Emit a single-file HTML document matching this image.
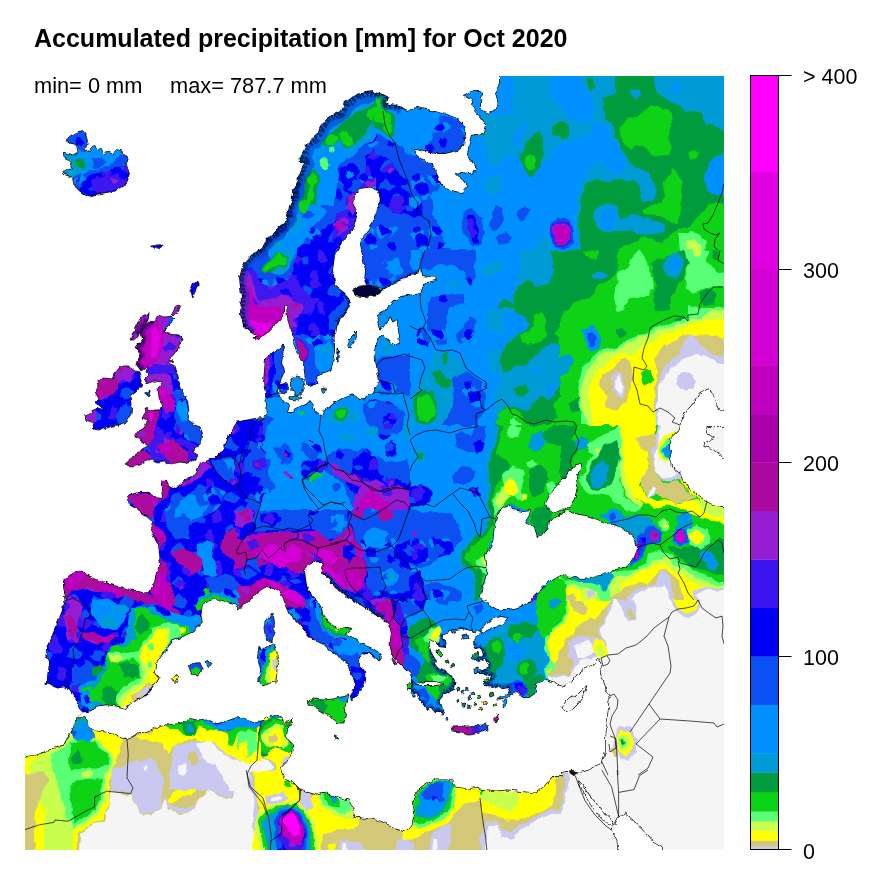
<!DOCTYPE html>
<html><head><meta charset="utf-8"><title>Accumulated precipitation</title>
<style>
html,body{margin:0;padding:0;background:#fff;}
body{width:875px;height:875px;position:relative;overflow:hidden;font-family:"Liberation Sans",sans-serif;color:#000;}
#title{position:absolute;left:34px;top:23px;font-size:25px;font-weight:bold;white-space:nowrap;line-height:30px;}
.mm{position:absolute;z-index:5;top:73px;font-size:21.8px;white-space:nowrap;line-height:26px;}
.tick{position:absolute;left:803px;font-size:21.5px;line-height:26px;white-space:nowrap;}
svg{position:absolute;left:0;top:0;}
</style></head><body>
<div id="title">Accumulated precipitation [mm] for Oct 2020</div>
<div class="mm" style="left:34px">min= 0 mm</div>
<div class="mm" style="left:170px">max= 787.7 mm</div>
<div class="tick" style="top:64px">&gt; 400</div>
<div class="tick" style="top:258px">300</div>
<div class="tick" style="top:451px">200</div>
<div class="tick" style="top:645px">100</div>
<div class="tick" style="top:839px">0</div>
<svg id="map" width="875" height="875" viewBox="0 0 875 875">
<defs><pattern id="m11" width="52" height="52" patternUnits="userSpaceOnUse"><path fill="#0a50f0" d="M30.7,28.9 26.9,34.5 23.3,35.1 14.9,32.4 18.1,26.3 22.9,22.2 26.3,26.3Z"/><path fill="#0a50f0" d="M1.8,30.9 -2.4,36.1 -7.6,36 -15.1,32.3 -10.6,29.6 -9.6,25 -0.5,27.7Z"/><path fill="#0a50f0" d="M53.8,30.9 49.6,36.1 44.4,36 36.9,32.3 41.4,29.6 42.4,25 51.5,27.7Z"/><path fill="#0a50f0" d="M-2,-0.1 -3.8,3.4 -9.1,2.8 -12.2,-1.4 -9.6,-2.4 -5.5,-2.5Z"/><path fill="#0a50f0" d="M-2,51.9 -3.8,55.4 -9.1,54.8 -12.2,50.6 -9.6,49.6 -5.5,49.5Z"/><path fill="#0a50f0" d="M50,-0.1 48.2,3.4 42.9,2.8 39.8,-1.4 42.4,-2.4 46.5,-2.5Z"/><path fill="#0a50f0" d="M50,51.9 48.2,55.4 42.9,54.8 39.8,50.6 42.4,49.6 46.5,49.5Z"/><path fill="#0a50f0" d="M28.7,9.7 24.4,13.5 17.1,14.1 17.3,11.2 21,4.5 24.6,4.7Z"/><path fill="#0a50f0" d="M28.7,61.7 24.4,65.5 17.1,66.1 17.3,63.2 21,56.5 24.6,56.7Z"/><path fill="#0a50f0" d="M36.4,-10.1 33.8,-4.9 27.9,-5.5 28.5,-9.6 30.2,-14.4 34.3,-14.1Z"/><path fill="#0a50f0" d="M36.4,41.9 33.8,47.1 27.9,46.5 28.5,42.4 30.2,37.6 34.3,37.9Z"/><path fill="#3c14f0" d="M13.7,-3.6 14.7,1 10.7,3.2 4.3,1.8 5.5,-3.9 6.6,-7.7 8.5,-10.4 13,-7.6Z"/><path fill="#3c14f0" d="M13.7,48.4 14.7,53 10.7,55.2 4.3,53.8 5.5,48.1 6.6,44.3 8.5,41.6 13,44.4Z"/><path fill="#3c14f0" d="M65.7,-3.6 66.7,1 62.7,3.2 56.3,1.8 57.5,-3.9 58.6,-7.7 60.5,-10.4 65,-7.6Z"/><path fill="#3c14f0" d="M65.7,48.4 66.7,53 62.7,55.2 56.3,53.8 57.5,48.1 58.6,44.3 60.5,41.6 65,44.4Z"/><path fill="#3c14f0" d="M6.4,13.7 6.3,19.5 -2.9,18.5 -2.2,14.7 -0.9,10.8 3.5,10.3Z"/><path fill="#3c14f0" d="M58.4,13.7 58.3,19.5 49.1,18.5 49.8,14.7 51.1,10.8 55.5,10.3Z"/><path fill="#3c14f0" d="M10.3,24.9 5.9,29.3 -1,28.4 -3.7,23.8 1.3,19 6.1,19.3Z"/><path fill="#3c14f0" d="M62.3,24.9 57.9,29.3 51,28.4 48.3,23.8 53.3,19 58.1,19.3Z"/><path fill="#3c14f0" d="M42.9,-1.2 38.1,3.8 33.2,5.9 30.4,3.2 24.7,1.3 27.5,-5.9 31.7,-6.8 39.2,-3.6Z"/><path fill="#3c14f0" d="M42.9,50.8 38.1,55.8 33.2,57.9 30.4,55.2 24.7,53.3 27.5,46.1 31.7,45.2 39.2,48.4Z"/><path fill="#3c14f0" d="M31.7,11.7 28.5,18.1 24.9,16.6 18.9,15.2 20.8,9.1 24.1,8.3 28.5,8.6Z"/><path fill="#3c14f0" d="M31.7,63.7 28.5,70.1 24.9,68.6 18.9,67.2 20.8,61.1 24.1,60.3 28.5,60.6Z"/><path fill="#961ed2" d="M27.2,16.3 26.8,17.9 25.6,18.7 24.7,18.1 22.8,17.3 23.9,15.4 25.6,13.5 29.1,14.4Z"/></pattern><pattern id="m10" width="52" height="52" patternUnits="userSpaceOnUse"><path fill="#0090ff" d="M34.8,22.2 31,25.7 27.4,29 25.3,22.7 26,18.2 31.2,18.5Z"/><path fill="#0090ff" d="M24.1,25.6 23.4,26.8 15.9,28.8 12.2,24.5 12.9,19.2 20.5,19.1Z"/><path fill="#0090ff" d="M8.3,23.9 9.9,31 4,33.6 -3.1,31.7 -6.5,26.5 -1.2,22.3 3,20.9 7.4,20.8Z"/><path fill="#0090ff" d="M60.3,23.9 61.9,31 56,33.6 48.9,31.7 45.5,26.5 50.8,22.3 55,20.9 59.4,20.8Z"/><path fill="#0090ff" d="M14.2,-13.4 11.2,-9.2 6.1,-8.2 5,-12.2 7.7,-16.3 10.4,-16.2Z"/><path fill="#0090ff" d="M14.2,38.6 11.2,42.8 6.1,43.8 5,39.8 7.7,35.7 10.4,35.8Z"/><path fill="#0090ff" d="M66.2,-13.4 63.2,-9.2 58.1,-8.2 57,-12.2 59.7,-16.3 62.4,-16.2Z"/><path fill="#0090ff" d="M66.2,38.6 63.2,42.8 58.1,43.8 57,39.8 59.7,35.7 62.4,35.8Z"/><path fill="#0000f5" d="M27,21.5 27.9,25.2 20,26.3 18.2,24.6 15.8,20.7 16.7,17.1 20.4,17.9 24.1,18.8Z"/><path fill="#0000f5" d="M32.6,39 29,42.5 23.3,41.3 22.7,37.7 25.3,33.6 30.4,36Z"/><path fill="#0000f5" d="M12,32.2 12.1,37.1 3.6,37.5 -0.8,29.9 4.3,25.6 10.1,27.7Z"/><path fill="#0000f5" d="M64,32.2 64.1,37.1 55.6,37.5 51.2,29.9 56.3,25.6 62.1,27.7Z"/><path fill="#0000f5" d="M4.5,23.1 2.1,24.4 -0,26.3 -3.9,23.4 -3.5,20.1 -0.9,18.2 3.3,18.7Z"/><path fill="#0000f5" d="M56.5,23.1 54.1,24.4 52,26.3 48.1,23.4 48.5,20.1 51.1,18.2 55.3,18.7Z"/></pattern><pattern id="m9" width="52" height="52" patternUnits="userSpaceOnUse"><path fill="#0a50f0" d="M29.2,18.3 28.2,21.5 25.3,22.9 21.3,22.7 20.9,19.9 21.4,15.8 23.8,14.8 27.4,15.9Z"/><path fill="#0a50f0" d="M25,4.3 23,7.1 18.8,8.3 15.6,5.3 21.1,1.9 23.7,-0.4Z"/><path fill="#0a50f0" d="M25,56.3 23,59.1 18.8,60.3 15.6,57.3 21.1,53.9 23.7,51.6Z"/><path fill="#0a50f0" d="M1.5,5.6 -1.2,10.3 -4.3,12.5 -10.1,11.6 -10.7,6.7 -13.7,2.5 -7.5,0.9 -2.8,2.2Z"/><path fill="#0a50f0" d="M1.5,57.6 -1.2,62.3 -4.3,64.5 -10.1,63.6 -10.7,58.7 -13.7,54.5 -7.5,52.9 -2.8,54.2Z"/><path fill="#0a50f0" d="M53.5,5.6 50.8,10.3 47.7,12.5 41.9,11.6 41.3,6.7 38.3,2.5 44.5,0.9 49.2,2.2Z"/><path fill="#0a50f0" d="M53.5,57.6 50.8,62.3 47.7,64.5 41.9,63.6 41.3,58.7 38.3,54.5 44.5,52.9 49.2,54.2Z"/><path fill="#009bd7" d="M23.4,34.2 21.6,37.8 18.1,39 16.1,37 15.4,35.7 15.9,32.9 19.6,32.5 22.9,32.9Z"/><path fill="#009bd7" d="M17.4,37.3 13.7,42 10.8,42.1 7.2,39.7 11.4,36.2 13.7,36Z"/></pattern><pattern id="m14" width="52" height="52" patternUnits="userSpaceOnUse"><path fill="#3c14f0" d="M10.5,36 7.7,40.4 3.3,41.8 -0.7,37.6 1.2,31.9 7.4,31.7Z"/><path fill="#3c14f0" d="M62.5,36 59.7,40.4 55.3,41.8 51.3,37.6 53.2,31.9 59.4,31.7Z"/><path fill="#3c14f0" d="M12.7,33 12.4,36.9 7.1,36.4 3.8,34.8 2.8,32.1 7.6,29.6 11.1,31Z"/><path fill="#3c14f0" d="M64.7,33 64.4,36.9 59.1,36.4 55.8,34.8 54.8,32.1 59.6,29.6 63.1,31Z"/><path fill="#3c14f0" d="M17.8,5.8 17,9.8 11.8,12.4 8.1,8.8 9.5,4.4 9.7,-0.2 15.3,2.5Z"/><path fill="#3c14f0" d="M17.8,57.8 17,61.8 11.8,64.4 8.1,60.8 9.5,56.4 9.7,51.8 15.3,54.5Z"/><path fill="#be00be" d="M35.3,-0.6 32.9,4.5 30,6.2 27.2,3.3 26.2,0.5 27.9,-4.9 33.3,-5Z"/><path fill="#be00be" d="M35.3,51.4 32.9,56.5 30,58.2 27.2,55.3 26.2,52.5 27.9,47.1 33.3,47Z"/><path fill="#be00be" d="M6.7,12.3 3.5,17.4 -3.5,17.2 -5.9,12.3 -3.2,9.5 2.9,8.3Z"/><path fill="#be00be" d="M58.7,12.3 55.5,17.4 48.5,17.2 46.1,12.3 48.8,9.5 54.9,8.3Z"/><path fill="#be00be" d="M-0.9,31.8 -1.3,33.9 -4.4,35.3 -8.8,33.4 -8.2,30.7 -5.7,28.8 -1.7,29.7Z"/><path fill="#be00be" d="M51.1,31.8 50.7,33.9 47.6,35.3 43.2,33.4 43.8,30.7 46.3,28.8 50.3,29.7Z"/><path fill="#be00be" d="M18,35.2 14.5,38.1 9.8,37.4 4.8,37 4.5,30.6 9.1,28.3 13.5,28.7Z"/><path fill="#be00be" d="M70,35.2 66.5,38.1 61.8,37.4 56.8,37 56.5,30.6 61.1,28.3 65.5,28.7Z"/><path fill="#961ed2" d="M2.8,35.7 2.8,38 0.1,37.2 -2.8,36.9 -3.8,33.6 -1.1,33 1.1,32.8Z"/><path fill="#961ed2" d="M54.8,35.7 54.8,38 52.1,37.2 49.2,36.9 48.2,33.6 50.9,33 53.1,32.8Z"/><path fill="#961ed2" d="M42.3,18.4 39.3,20.4 37,21.4 33.8,18.9 33,15.9 37.1,14.9 40.2,15.3Z"/><path fill="#961ed2" d="M30.3,5.5 28.3,9.2 26.2,8.7 23.3,6.1 25.2,2.8 28.2,2.7Z"/><path fill="#961ed2" d="M30.3,57.5 28.3,61.2 26.2,60.7 23.3,58.1 25.2,54.8 28.2,54.7Z"/></pattern><pattern id="m13" width="52" height="52" patternUnits="userSpaceOnUse"><path fill="#3c14f0" d="M20.8,36.1 14.9,39.1 10.3,40 5.8,36.9 12.3,29.7 17.4,30.8Z"/><path fill="#3c14f0" d="M27.7,22.4 27.3,26.9 21.2,26.6 19.2,24.9 19.2,21.6 23.8,18.9 25.4,20.1Z"/><path fill="#3c14f0" d="M21.9,19.1 20.8,21.6 18,22.2 13.8,20 16.6,17.4 18.3,14.1 20.9,15.8Z"/><path fill="#3c14f0" d="M-1.8,-10.6 -3.3,-6.4 -5,-5.9 -9.3,-7.8 -9,-9.9 -7.7,-12.6 -7.2,-14.6 -3.8,-12.1Z"/><path fill="#3c14f0" d="M-1.8,41.4 -3.3,45.6 -5,46.1 -9.3,44.2 -9,42.1 -7.7,39.4 -7.2,37.4 -3.8,39.9Z"/><path fill="#3c14f0" d="M50.2,-10.6 48.7,-6.4 47,-5.9 42.7,-7.8 43,-9.9 44.3,-12.6 44.8,-14.6 48.2,-12.1Z"/><path fill="#3c14f0" d="M50.2,41.4 48.7,45.6 47,46.1 42.7,44.2 43,42.1 44.3,39.4 44.8,37.4 48.2,39.9Z"/><path fill="#aa0a9e" d="M20.1,4.3 19.1,6.4 17.4,8.2 14.6,6.3 14.9,3.6 17.1,3.1 20.3,2.9Z"/><path fill="#aa0a9e" d="M20.1,56.3 19.1,58.4 17.4,60.2 14.6,58.3 14.9,55.6 17.1,55.1 20.3,54.9Z"/><path fill="#aa0a9e" d="M40,-8.5 38.4,-5.4 35.9,-4.7 33.1,-4.2 31.2,-7.5 33.7,-9.3 36.1,-10.2 37.1,-9.7Z"/><path fill="#aa0a9e" d="M40,43.5 38.4,46.6 35.9,47.3 33.1,47.8 31.2,44.5 33.7,42.7 36.1,41.8 37.1,42.3Z"/><path fill="#aa0a9e" d="M35.7,14.9 32,17.4 30.1,19.1 28.4,14.3 28.6,13.2 32.4,11.9Z"/></pattern><pattern id="m12" width="52" height="52" patternUnits="userSpaceOnUse"><path fill="#0000f5" d="M31.9,33.7 27.4,38.5 23.4,37.2 20.4,32.9 21.6,30.2 28.4,29Z"/><path fill="#0000f5" d="M-5.2,4.6 -8.5,8 -9.3,9.1 -13.3,9.7 -17.2,5.8 -15.1,0.7 -10.8,0.9 -3,1.1Z"/><path fill="#0000f5" d="M-5.2,56.6 -8.5,60 -9.3,61.1 -13.3,61.7 -17.2,57.8 -15.1,52.7 -10.8,52.9 -3,53.1Z"/><path fill="#0000f5" d="M46.8,4.6 43.5,8 42.7,9.1 38.7,9.7 34.8,5.8 36.9,0.7 41.2,0.9 49,1.1Z"/><path fill="#0000f5" d="M46.8,56.6 43.5,60 42.7,61.1 38.7,61.7 34.8,57.8 36.9,52.7 41.2,52.9 49,53.1Z"/><path fill="#0000f5" d="M22.6,18.4 23.5,22.3 19.7,23.4 16.6,21.8 14.1,19.9 16.5,15.7 17.8,14.2 23.3,15.1Z"/><path fill="#0000f5" d="M25.1,18.9 24.2,20.9 20.5,22.9 16.9,21 16.2,18 13.2,15.3 20.2,13.3 23.6,13.4Z"/><path fill="#961ed2" d="M37.3,11.9 36.3,15.3 32.5,14.4 29,12.9 29.3,9.4 32.3,9.8 35,9.6Z"/><path fill="#961ed2" d="M15.5,24.8 12.3,26.7 9.5,27.9 8.3,26.5 8.1,24.5 8,21.5 11.3,21.7 11.8,23Z"/><path fill="#961ed2" d="M20.3,-3.5 19.7,-0 17,0.1 12.7,0.1 12.5,-3.1 14,-6.4 15.4,-7.8 18.5,-7.2Z"/><path fill="#961ed2" d="M20.3,48.5 19.7,52 17,52.1 12.7,52.1 12.5,48.9 14,45.6 15.4,44.2 18.5,44.8Z"/></pattern><filter id="wob" x="0" y="0" width="875" height="875" filterUnits="userSpaceOnUse"><feTurbulence type="fractalNoise" baseFrequency="0.09" numOctaves="2" seed="7" result="n"/><feDisplacementMap in="SourceGraphic" in2="n" scale="7" xChannelSelector="R" yChannelSelector="G"/></filter><filter id="wob2" x="0" y="0" width="875" height="875" filterUnits="userSpaceOnUse"><feTurbulence type="fractalNoise" baseFrequency="0.17" numOctaves="2" seed="3" result="n"/><feDisplacementMap in="SourceGraphic" in2="n" scale="4.5" xChannelSelector="R" yChannelSelector="G"/></filter><clipPath id="mc"><rect x="25" y="76" width="699" height="774"/></clipPath>
<clipPath id="ic"><path d="M66,140 70,136 75,133.4 82,130.6 85.6,132.6 87.4,141 86,148 84,152 89,151 92,146 95,145.4 97,150.6 101,148 104,154 108,151 112,154 117.4,149.4 122,151 123,155 128.4,156.6 126,163 127.4,168 129.4,173 127.4,181 124,186 119,189 113,191.4 101,193.4 89,196.2 83,194.4 77.4,190 74,184 72.6,177.4 64,174.4 63,171.4 71.4,168.6 70.6,163 63,155.4 63.4,152.2 73,155 78,152 76.6,145.4 70,143Z"/>
<path d="M151.4,246 163,244.2 159.4,249.8 155,248.6Z"/>
<path d="M158,315 164,317 172,316 175,319 169,326 163,332 169,334 178,335 182,338 180,346 174,354 169,360 173,361 168,363 175,366 178,376 180,388 185,396 188,404 189,412 188,420 194,424 200,427 202.4,433 201,440 198,446 193,452 198,455 196,459 188,463 180,462 172,464 164,462 158,463 150,459 144,463 140,465 132,467 124,464 130,459 138,454 142,449 148,446 140,440 134,437 136,433 144,428 148,420 142,418 146,413 144,408 151,410 160,410 162,404 159,398 158,388 163,382 154,381 146,384 145,379 149,375 146,372 148,366 141,371 136,364 140,354 135,347 142,342 140,332 144,326 151,320 154,322Z"/>
<path d="M120,367 129,367 135,371 139,372 141,380 141.6,386 136,392 131,396 132,404 131,414 126,422 118,425 110,427 100,430 92,429 94,423 86,420 85,415 92,412 97,408 104,410 95,403 99,399 95,392 98,386 97,380 103,378 112,379 115,373Z"/>
<path d="M130,340 135,328 140,318 149,313 148,320 143,328 139,334 134,340Z"/>
<path d="M172,314 176,306 181,305 178,312 174,316Z"/>
<path d="M190,290 193,284 198,281 198,286 194,294 191.6,298Z"/>
<path d="M146,393 150,390 149,395 146.4,396Z"/>
<path d="M279,384 286,382 288.6,388 286,394 280,393Z"/>
<path d="M291,379 297,376 303,378 305,385 302,393 297,395 292,391Z"/>
<path d="M289,396 297,395 301,398 295,401 289,399Z"/>
<path d="M321.4,388.6 325,388 326.6,392 323,393.4Z"/>
<path d="M338,349 339.4,350 339,361 337.4,362Z"/>
<path d="M348,340 353,335 357,331 355,339 351,347 348,346Z"/>
<path d="M352,289.6 358.4,286.4 368,284.8 377.6,288 382.4,291.2 376,296 366.4,296.8 356.8,296Z"/>
<path d="M265,622 270,618 273,612 274.4,622 274,634 272,642 268,640 265,634 264,628Z"/>
<path d="M259,646 262,650 269,645 274,643 277,652 277.4,666 276,682 269,683 263,686 258.6,682 260.6,670 257.4,658Z"/>
<path d="M308,702 315,698 323,700 333,699 341,697 349,695 347,702 344,708 346,717 344,723 338,723 331,717 323,713 315,708 310,705Z"/>
<path d="M334,735 337,736 338,739 335,738.4Z"/>
<path d="M172.6,677.6 176.2,675.2 178.6,677.6 175.7,682.4Z"/>
<path d="M188.2,666.8 193,663.2 200.2,662.7 202.1,669.2 197.8,675.2 193,674Z"/>
<path d="M205.5,662 209.8,661.3 211.7,665.6 208.6,666.8Z"/>
<path d="M452,726 459,725.6 467,727 477,726 487,724 488,730 479,733 469,735 461,733 453,732Z"/>
<path d="M503,700 507.4,698 506,705 503.4,708Z"/>
<path d="M494.6,718 497.4,712 498.4,720 495.4,722Z"/>
<path d="M471,655 478,652.4 480,657 475,659.6Z"/>
<path d="M474,669 478,668 479,673 475,674Z"/>
<path d="M483,679 488,678 489,681 484,682Z"/>
<path d="M461,691 464,690 464.6,693 461.6,694Z"/>
<path d="M468,697 471,696 471.4,699 468.6,699.6Z"/>
<path d="M473,703 476,702 476.6,705 473.6,705.6Z"/>
<path d="M462,704 464.6,703 465,706 462.4,706.4Z"/>
<path d="M483,702 486,701 486.4,704 483.4,704.6Z"/>
<path d="M462,635 467,634 468,638 463,639Z"/>
<path d="M391,658 394,660 397,664 395,665 392,662Z"/>
<path d="M407,684 411,683 412,688 408,689Z"/>
<path d="M411,692 415,691 415,696 412,696Z"/>
<path d="M562,707 565,702 569,698 576,696 581,691 587,685.6 585,692 583,698 578,704 573,709 567,711.6 563,710Z"/>
<path d="M451,630 455,629 455.4,632 452,633Z"/>
<path d="M445,660 448,659 449,662 446,663Z"/>
<path d="M451,664 454,663.6 454.6,666 451.6,666.6Z"/>
<path d="M456,688 459,687 460,690 457,691Z"/>
<path d="M465,688 467.4,687.2 468.2,690 465.6,690.6Z"/>
<path d="M471,692 474,691 474.6,694 471.6,694.6Z"/>
<path d="M477,696 480,695.2 480.6,698 477.6,698.6Z"/>
<path d="M489,694 493,692 494,695.6 490,697Z"/>
<path d="M493,704 496,703 496.4,706 493.6,706.6Z"/>
<path d="M479,708 482,707.2 482.4,710 479.6,710.6Z"/>
<path d="M467,706 470,705.2 470.4,708 467.6,708.6Z"/>
<path d="M457,700 459.4,699.4 459.8,702 457.4,702.4Z"/>
<path d="M445,718 447.4,717.2 447.8,720 445.4,720.4Z"/>
<path d="M436,650 440,651 443,655 440,656 436.6,653Z"/></clipPath></defs>
<g clip-path="url(#mc)">
<g filter="url(#wob)">
<rect x="0" y="50" width="760" height="830" fill="#0090ff"/>
<path fill="#009bd7" d="M578,60 740,60 740,250 550,250 580,250 576,215 576,199 581,184 587,172 596,163 608,169 620,175 626,169 624,157 616,143 606,127 592,123 593,113 593,101 583,89Z"/>
<path fill="#009bd7" d="M550,97 561,108 570,118 580,122 589,121 592,123 590,135 570,141 556,147 550,155Z"/>
<path fill="#009b3c" d="M551,127 561,119 570,127 570,134 562,139 552,134Z"/>
<path fill="#009b3c" d="M616,60 652,60 656,93 670,101 686,111 700,113 708,125 740,135 740,250 582,250 580,235 578,219 582,199 586,184 596,181 610,182 624,179 634,181 640,189 643,202 652,203 658,193 654,183 648,171 638,169 630,163 624,153 614,135 610,121 602,109 602,99 616,93Z"/>
<path fill="#009b3c" d="M588,78 595,77 596,87 591,90 587,85Z"/>
<path fill="#009bd7" d="M631,91 639,90 640,96 635,99 631,96Z"/>
<path fill="#0090ff" d="M672,83 678,82 679,91 674,93Z"/>
<path fill="#0090ff" d="M740,151 716,155 708,163 705,175 706,189 714,195 740,195Z"/>
<path fill="#009bd7" d="M596,207 608,203 618,209 620,219 630,215 650,219 666,225 662,233 646,235 630,231 616,231 606,233 598,227 594,217Z"/>
<path fill="#0090ff" d="M600,213 610,209 617,215 615,227 607,231 600,225Z"/>
<path fill="#0ad214" d="M619,129 626,121 638,115 650,106 662,106 672,113 673,123 669,133 671,149 668,155 658,158 650,153 642,145 636,144 630,150 622,141Z"/>
<path fill="#0ad214" d="M665,181 671,171 676,170 682,183 683,195 680,211 678,225 670,221 658,215 644,214 642,210 654,206 663,203Z"/>
<path fill="#0ad214" d="M688,152 694,149 699,152 698,157 693,159 689,156Z"/>
<path fill="#0ad214" d="M616,250 622,245 638,241 644,236 654,239 662,243 670,235 678,229 690,227 700,215 710,205 740,203 740,250Z"/>
<path fill="#5aff78" d="M678,233 690,233 702,235 706,243 704,250 680,250 679,241Z"/>
<path fill="#c8ff50" d="M686,241 694,240 700,245 701,250 688,250Z"/>
<path fill="#0a50f0" d="M551,223 556,219 568,220 573,227 573,241 568,247 558,248 551,243Z"/>
<path fill="#3c14f0" d="M552.4,225 557,221.4 567,222 571,228 571,240 567,245 558,246 552.4,241Z"/>
<path fill="url(#m12)" d="M552.4,225 557,221.4 567,222 571,228 571,240 567,245 558,246 552.4,241Z"/>
<path fill="#961ed2" d="M553.6,226.6 558,223 566.4,223.8 570,229 570,239 566,244 558.4,244.6 553.6,239.4Z"/>
<path fill="url(#m13)" d="M553.6,226.6 558,223 566.4,223.8 570,229 570,239 566,244 558.4,244.6 553.6,239.4Z"/>
<path fill="#be00be" d="M555,228 559,224.6 566,225.4 569,230 569,238 565,243 559,243 555,238Z"/>
<path fill="#0a50f0" d="M339.2,167.1 346.6,158.2 354,155.2 362.9,146.3 368.9,140.4 380,137.4 380,179 368.9,182 365.9,193.9 354,205 333.2,205 336.2,193.9 337.7,179Z"/>
<path fill="url(#m10)" d="M339.2,167.1 346.6,158.2 354,155.2 362.9,146.3 368.9,140.4 380,137.4 380,179 368.9,182 365.9,193.9 354,205 333.2,205 336.2,193.9 337.7,179Z"/>
<path fill="#0000f5" d="M339.2,171.6 346.6,164.2 354,162.7 360,170.1 357,179 362.9,185 354,193.9 345.1,190.9 339.2,182Z"/>
<path fill="url(#m11)" d="M339.2,171.6 346.6,164.2 354,162.7 360,170.1 357,179 362.9,185 354,193.9 345.1,190.9 339.2,182Z"/>
<path fill="#0090ff" d="M346.6,171.6 351,170.1 353.3,174.6 351,178.3 347.3,177.5Z"/>
<path fill="url(#m9)" d="M346.6,171.6 351,170.1 353.3,174.6 351,178.3 347.3,177.5Z"/>
<path fill="#0000f5" d="M365.9,155.2 374.8,149.3 380,152.3 380,170.1 373.3,179 365.9,173.1Z"/>
<path fill="url(#m11)" d="M365.9,155.2 374.8,149.3 380,152.3 380,170.1 373.3,179 365.9,173.1Z"/>
<path fill="#3c14f0" d="M360,187.9 367.4,179 380,176 380,187.9 373.3,185 365.9,190.9 360,199.8 354,205 345.1,205 346.6,196.8Z"/>
<path fill="url(#m12)" d="M360,187.9 367.4,179 380,176 380,187.9 373.3,185 365.9,190.9 360,199.8 354,205 345.1,205 346.6,196.8Z"/>
<path fill="#961ed2" d="M364.4,183.5 371.8,180.5 380,182 380,186.4 373.3,184.2 367.4,187.9Z"/>
<path fill="url(#m13)" d="M364.4,183.5 371.8,180.5 380,182 380,186.4 373.3,184.2 367.4,187.9Z"/>
<path fill="#009bd7" d="M380,97.3 368.9,100.3 360,106.2 351,110.7 342.1,119.6 333.2,128.5 324.3,135.9 318.4,144.8 319.8,152.3 327.3,152.3 339.2,146.3 348.1,149.3 360,146.3 368.9,138.9 371.8,127 380,127Z"/>
<path fill="#009b3c" d="M380,100.3 371.8,103.2 364.4,109.2 354,113.6 346.6,119.6 339.2,125.5 330.2,132.9 324.3,138.9 321.3,144.8 327.3,146.3 333.2,144.8 339.2,141.9 345.1,146.3 354,144.8 360,140.4 365.9,134.4 367.4,125.5 373.3,121.1 380,124Z"/>
<path fill="#0ad214" d="M367.4,112.1 373.3,107.7 380,110.7 380,121.1 373.3,119.6 368.1,118.1Z"/>
<path fill="#0ad214" d="M337.7,134.4 342.1,130 346.6,131.5 351,137.4 354,143.4 348.1,144.8 342.1,143.4 338.4,140.4Z"/>
<path fill="#0ad214" d="M324.3,137.4 330.2,134.4 336.2,137.4 336.9,141.9 333.2,144.8 327.3,144.8Z"/>
<path fill="#5aff78" d="M320.6,159 324.3,156 328,158.2 329.5,164.2 326.5,168.6 322.8,169.4 320.1,165.6Z"/>
<path fill="#5aff78" d="M330.2,148.6 333.2,146.3 334.7,149.3 332.5,153 330.2,152.3Z"/>
<path fill="#009b3c" d="M305,179 312.4,170.1 318.4,173.1 319.8,182 316.9,193.9 315.4,205 300.5,205 302,193.9Z"/>
<path fill="#0ad214" d="M308.7,177.5 312.4,173.1 316.1,174.6 316.9,182 313.9,187.9 315.4,193.9 312.4,201.3 309.4,205 305,205 307.2,193.9 309.4,187.9 307.9,183.5Z"/>
<path fill="#0a50f0" d="M260,205 375,205 375,335 240,335 238,280 260,244Z"/>
<path fill="url(#m10)" d="M260,205 375,205 375,335 240,335 238,280 260,244Z"/>
<path fill="#0090ff" d="M294,205 320,205 328,212 320,220 312,226 304,244 294,254 286,264 276,268 268,260 266,248 276,236 288,224 292,214Z"/>
<path fill="url(#m9)" d="M294,205 320,205 328,212 320,220 312,226 304,244 294,254 286,264 276,268 268,260 266,248 276,236 288,224 292,214Z"/>
<path fill="#009bd7" d="M286,220 296,216 304,220 300,230 290,234Z"/>
<path fill="#009bd7" d="M274,254 288,248 294,256 290,268 280,274 270,272Z"/>
<path fill="#009b3c" d="M260,268 268,262 275,255 281,252 289,259 287,265 278,267 270,272 263,272Z"/>
<path fill="#0ad214" d="M275,256 280,253 284,258 288,260 286,264 280,264 276,266 270,270 264,271 262,268 268,264Z"/>
<path fill="#0ad214" d="M299,202 308,198 309,210 304,214 300,212Z"/>
<path fill="#0000f5" d="M296,250 312,240 328,226 340,220 352,228 340,240 334,256 333,272 336,284 344,292 340,304 328,316 328,335 294,335 296,320 288,308 284,298 292,280 296,264Z"/>
<path fill="url(#m11)" d="M296,250 312,240 328,226 340,220 352,228 340,240 334,256 333,272 336,284 344,292 340,304 328,316 328,335 294,335 296,320 288,308 284,298 292,280 296,264Z"/>
<path fill="#3c14f0" d="M336,216 348,208 358,212 354,226 344,240 336,248 332,240Z"/>
<path fill="url(#m12)" d="M336,216 348,208 358,212 354,226 344,240 336,248 332,240Z"/>
<path fill="#961ed2" d="M348,196 360,190 358,206 352,216 348,208Z"/>
<path fill="url(#m13)" d="M348,196 360,190 358,206 352,216 348,208Z"/>
<path fill="#961ed2" d="M334,224 340,220 346,226 340,236 335,234Z"/>
<path fill="url(#m13)" d="M334,224 340,220 346,226 340,236 335,234Z"/>
<path fill="#be00be" d="M335,224 340,222 341,229 337,231Z"/>
<path fill="#3c14f0" d="M241,268 252,268 260,280 268,288 284,280 296,276 300,288 312,296 320,300 312,312 300,320 294,335 244,335 239,300Z"/>
<path fill="url(#m12)" d="M241,268 252,268 260,280 268,288 284,280 296,276 300,288 312,296 320,300 312,312 300,320 294,335 244,335 239,300Z"/>
<path fill="#961ed2" d="M241,272 249,272 254,284 257,298 268,300 280,296 288,294 294,300 300,304 304,308 300,314 294,320 290,335 245,335 240,312Z"/>
<path fill="url(#m13)" d="M241,272 249,272 254,284 257,298 268,300 280,296 288,294 294,300 300,304 304,308 300,314 294,320 290,335 245,335 240,312Z"/>
<path fill="#be00be" d="M241,280 247,279 251,288 253,300 260,308 272,306 284,308 288,316 284,328 278,335 246,335 241,320Z"/>
<path fill="#e100e1" d="M243,322 250,319 260,323 270,323 274,328 268,335 248,335Z"/>
<path fill="#0a50f0" d="M435,125 441,115 459,118 464,125 466,135 464,145 457,151 445,154 435,154 425,152 423,145 431,139Z"/>
<path fill="url(#m10)" d="M435,125 441,115 459,118 464,125 466,135 464,145 457,151 445,154 435,154 425,152 423,145 431,139Z"/>
<path fill="#0000f5" d="M425,145 431,143 435,149 431,154 425,152Z"/>
<path fill="url(#m11)" d="M425,145 431,143 435,149 431,154 425,152Z"/>
<path fill="#009b3c" d="M375,93 387,95 389,103 387,111 395,115 395,131 389,137 381,131 375,127Z"/>
<path fill="#0ad214" d="M375,97 383,97 385,109 391,119 393,131 387,135 383,125 377,123 375,115Z"/>
<path fill="#009bd7" d="M513,60 550,60 550,159 541,163 533,155 523,163 515,155 507,155 499,163 491,165 487,155 485,141 484,133 485,125 479,117 487,114 503,115 515,113 513,95Z"/>
<path fill="#0090ff" d="M515,135 521,125 527,123 523,135 519,145 515,151 513,143Z"/>
<path fill="#009b3c" d="M520,155 527,143 535,133 541,132 544,155 539,165 533,177 529,177 525,169Z"/>
<path fill="#0ad214" d="M524,157 529,153 535,157 536,163 533,170 529,169 526,163Z"/>
<path fill="#009b3c" d="M471,135 483,132 486,134 483,136 473,136Z"/>
<path fill="#009bd7" d="M485,181 495,176 502,178 500,189 494,196 487,189Z"/>
<path fill="#009bd7" d="M533,250 539,241 550,235 550,250Z"/>
<path fill="#0a50f0" d="M375,133 387,139 395,141 407,153 421,159 433,165 437,175 441,187 431,195 433,215 441,227 445,241 443,250 375,250Z"/>
<path fill="url(#m10)" d="M375,133 387,139 395,141 407,153 421,159 433,165 437,175 441,187 431,195 433,215 441,227 445,241 443,250 375,250Z"/>
<path fill="#0000f5" d="M375,155 387,159 395,171 407,179 411,195 421,203 423,215 415,219 405,215 395,213 387,207 375,205Z"/>
<path fill="url(#m11)" d="M375,155 387,159 395,171 407,179 411,195 421,203 423,215 415,219 405,215 395,213 387,207 375,205Z"/>
<path fill="#3c14f0" d="M393,197 401,195 405,201 401,206 394,204Z"/>
<path fill="url(#m12)" d="M393,197 401,195 405,201 401,206 394,204Z"/>
<path fill="#0090ff" d="M409,197 417,195 421,203 415,209 409,205Z"/>
<path fill="url(#m9)" d="M409,197 417,195 421,203 415,209 409,205Z"/>
<path fill="#0a50f0" d="M463,211 471,209 481,219 485,233 481,245 473,247 465,235 461,223Z"/>
<path fill="#0000f5" d="M467,215 473,215 479,231 479,243 474,244 469,231Z"/>
<path fill="url(#m11)" d="M467,215 473,215 479,231 479,243 474,244 469,231Z"/>
<path fill="#0a50f0" d="M490,223 495,205 501,207 505,219 499,229 492,230Z"/>
<path fill="#0a50f0" d="M517,209 525,205 530,209 527,219 520,222 516,215Z"/>
<path fill="#0a50f0" d="M495,237 507,233 512,237 509,243 499,245Z"/>
<path fill="#0000f5" d="M120,420 236,420 236,596 60,596 60,568 120,568Z"/>
<path fill="url(#m11)" d="M120,420 236,420 236,596 60,596 60,568 120,568Z"/>
<path fill="#aa0a9e" d="M126,497 130,494 148,492 154,496 162,497 161,480 167,480 170,496 160,500 154,508 152,520 148,518 136,508Z"/>
<path fill="url(#m14)" d="M126,497 130,494 148,492 154,496 162,497 161,480 167,480 170,496 160,500 154,508 152,520 148,518 136,508Z"/>
<path fill="#0a50f0" d="M164,510 172,500 184,496 200,486 212,486 226,492 220,504 212,514 200,520 190,526 188,540 176,538 168,528Z"/>
<path fill="url(#m10)" d="M164,510 172,500 184,496 200,486 212,486 226,492 220,504 212,514 200,520 190,526 188,540 176,538 168,528Z"/>
<path fill="#0090ff" d="M180,500 188,494 196,496 200,508 208,504 204,516 190,520 184,514 176,518 175,510Z"/>
<path fill="url(#m9)" d="M180,500 188,494 196,496 200,508 208,504 204,516 190,520 184,514 176,518 175,510Z"/>
<path fill="#0a50f0" d="M212,460 235,456 235,480 224,480 216,472Z"/>
<path fill="url(#m10)" d="M212,460 235,456 235,480 224,480 216,472Z"/>
<path fill="#0090ff" d="M224,460 235,458 235,472 228,470Z"/>
<path fill="url(#m9)" d="M224,460 235,458 235,472 228,470Z"/>
<path fill="#961ed2" d="M200,463 208,460 212,466 204,472 198,480 184,486 180,484 192,477 196,472Z"/>
<path fill="url(#m13)" d="M200,463 208,460 212,466 204,472 198,480 184,486 180,484 192,477 196,472Z"/>
<path fill="#aa0a9e" d="M152,522 164,532 166,542 160,544 159,554 160,564 168,572 172,588 164,595 148,595 154,582 156,572 160,564 158,544 150,530Z"/>
<path fill="url(#m14)" d="M152,522 164,532 166,542 160,544 159,554 160,564 168,572 172,588 164,595 148,595 154,582 156,572 160,564 158,544 150,530Z"/>
<path fill="#be00be" d="M158,568 166,572 170,586 162,595 149,595 154,582Z"/>
<path fill="#aa0a9e" d="M172,552 184,548 196,552 204,562 200,572 192,576 184,566 174,562Z"/>
<path fill="url(#m14)" d="M172,552 184,548 196,552 204,562 200,572 192,576 184,566 174,562Z"/>
<path fill="#0090ff" d="M198,544 208,540 214,544 212,556 218,568 212,578 204,572 202,560 197,554Z"/>
<path fill="url(#m9)" d="M198,544 208,540 214,544 212,556 218,568 212,578 204,572 202,560 197,554Z"/>
<path fill="#aa0a9e" d="M224,534 235,528 235,560 228,558 220,548Z"/>
<path fill="url(#m14)" d="M224,534 235,528 235,560 228,558 220,548Z"/>
<path fill="#aa0a9e" d="M214,580 222,576 220,586 210,592Z"/>
<path fill="url(#m14)" d="M214,580 222,576 220,586 210,592Z"/>
<path fill="#0ad214" d="M208,592 214,590 220,592 220,596 208,596Z"/>
<path fill="#961ed2" d="M62,578 80,570 110,580 148,592.4 148,596 65,596Z"/>
<path fill="url(#m13)" d="M62,578 80,570 110,580 148,592.4 148,596 65,596Z"/>
<path fill="#0000f5" d="M72,578 80,576 86,586 80,595 72,595Z"/>
<path fill="url(#m11)" d="M72,578 80,576 86,586 80,595 72,595Z"/>
<path fill="#0000f5" d="M96,584 106,582 110,590 100,595Z"/>
<path fill="url(#m11)" d="M96,584 106,582 110,590 100,595Z"/>
<path fill="#0a50f0" d="M292,335 337,335 335,359 333,368 329,372 320,374 317,377 318,383 307,386 304,371 297,353Z"/>
<path fill="url(#m10)" d="M292,335 337,335 335,359 333,368 329,372 320,374 317,377 318,383 307,386 304,371 297,353Z"/>
<path fill="#3c14f0" d="M294,337 304,341 309,353 307,363 301,361 296,349Z"/>
<path fill="url(#m12)" d="M294,337 304,341 309,353 307,363 301,361 296,349Z"/>
<path fill="#aa0a9e" d="M295,339 303,343 307,353 305,360 300,357 296,347Z"/>
<path fill="url(#m14)" d="M295,339 303,343 307,353 305,360 300,357 296,347Z"/>
<path fill="#0090ff" d="M315,347 331,341 335,359 331,369 321,373 315,365Z"/>
<path fill="url(#m9)" d="M315,347 331,341 335,359 331,369 321,373 315,365Z"/>
<path fill="#0a50f0" d="M263,355 285,343 285,371 280,397 267,399 263,383Z"/>
<path fill="url(#m10)" d="M263,355 285,343 285,371 280,397 267,399 263,383Z"/>
<path fill="#0000f5" d="M263,357 275,353 275,375 271,395 265,395 263,383Z"/>
<path fill="url(#m11)" d="M263,357 275,353 275,375 271,395 265,395 263,383Z"/>
<path fill="#961ed2" d="M264,359 269,357 270,369 268,383 264,385 263,371Z"/>
<path fill="url(#m13)" d="M264,359 269,357 270,369 268,383 264,385 263,371Z"/>
<path fill="#0a50f0" d="M235,422 267,415 275,419 267,429 261,447 271,459 269,475 275,487 265,495 259,510 235,510Z"/>
<path fill="url(#m10)" d="M235,422 267,415 275,419 267,429 261,447 271,459 269,475 275,487 265,495 259,510 235,510Z"/>
<path fill="#0000f5" d="M235,422 255,418 263,423 261,439 255,447 247,455 243,471 235,475Z"/>
<path fill="url(#m11)" d="M235,422 255,418 263,423 261,439 255,447 247,455 243,471 235,475Z"/>
<path fill="#0a50f0" d="M275,447 287,443 295,455 289,465 279,463Z"/>
<path fill="url(#m10)" d="M275,447 287,443 295,455 289,465 279,463Z"/>
<path fill="#0a50f0" d="M301,443 311,439 319,447 323,459 315,463 305,455Z"/>
<path fill="url(#m10)" d="M301,443 311,439 319,447 323,459 315,463 305,455Z"/>
<path fill="#aa0a9e" d="M282.6,452 286.6,452 287.4,456 283.4,457Z"/>
<path fill="url(#m14)" d="M282.6,452 286.6,452 287.4,456 283.4,457Z"/>
<path fill="#3c14f0" d="M253,461 265,459 267,467 259,471 252,468Z"/>
<path fill="url(#m12)" d="M253,461 265,459 267,467 259,471 252,468Z"/>
<path fill="#aa0a9e" d="M255,463 259,462 260,466 256,467Z"/>
<path fill="url(#m14)" d="M255,463 259,462 260,466 256,467Z"/>
<path fill="#aa0a9e" d="M283,471 287,470 295,479 292,480Z"/>
<path fill="url(#m14)" d="M283,471 287,470 295,479 292,480Z"/>
<path fill="#0ad214" d="M299,413 303,412 304,416 300,417Z"/>
<path fill="#0a50f0" d="M363,403 375,399 391,403 403,411 405,429 395,435 383,439 375,431 367,423 363,415Z"/>
<path fill="url(#m10)" d="M363,403 375,399 391,403 403,411 405,429 395,435 383,439 375,431 367,423 363,415Z"/>
<path fill="#0000f5" d="M382,417 389,412 395,415 396,423 391,429 384,427Z"/>
<path fill="url(#m11)" d="M382,417 389,412 395,415 396,423 391,429 384,427Z"/>
<path fill="#0a50f0" d="M327,455 339,447 355,451 363,447 375,455 387,463 407,459 410,475 410,510 355,510 347,495 335,487 329,475 323,465Z"/>
<path fill="url(#m10)" d="M327,455 339,447 355,451 363,447 375,455 387,463 407,459 410,475 410,510 355,510 347,495 335,487 329,475 323,465Z"/>
<path fill="#0000f5" d="M353,459 363,451 375,457 379,471 387,479 410,483 410,510 363,510 355,495 347,483 351,471Z"/>
<path fill="url(#m11)" d="M353,459 363,451 375,457 379,471 387,479 410,483 410,510 363,510 355,495 347,483 351,471Z"/>
<path fill="#0000f5" d="M384,445 391,441 397,445 395,455 387,457Z"/>
<path fill="url(#m11)" d="M384,445 391,441 397,445 395,455 387,457Z"/>
<path fill="#009bd7" d="M331,411 341,405 355,409 359,419 347,425 331,423 323,421Z"/>
<path fill="#009b3c" d="M335,414 340,408 346,408 347,415 342,420 336,419Z"/>
<path fill="#0ad214" d="M337,414 341,409.4 345,410 345,415 341,418Z"/>
<path fill="#009bd7" d="M337,435 347,432 355,435 353,441 341,442Z"/>
<path fill="#009bd7" d="M365,429 373,426 379,431 375,437 367,435Z"/>
<path fill="#961ed2" d="M329,463 339,465 347,473 355,475 363,483 359,487 347,481 335,473Z"/>
<path fill="url(#m13)" d="M329,463 339,465 347,473 355,475 363,483 359,487 347,481 335,473Z"/>
<path fill="#961ed2" d="M355,495 363,483 375,479 387,487 401,485 410,491 410,510 353,510Z"/>
<path fill="url(#m13)" d="M355,495 363,483 375,479 387,487 401,485 410,491 410,510 353,510Z"/>
<path fill="#be00be" d="M359,505 365,491 373,487 375,495 383,497 389,503 387,510 357,510Z"/>
<path fill="#0090ff" d="M305,477 319,467 331,475 343,483 347,495 335,503 323,503 311,493Z"/>
<path fill="url(#m9)" d="M305,477 319,467 331,475 343,483 347,495 335,503 323,503 311,493Z"/>
<path fill="#0ad214" d="M308,478 319,473 323,475 315,481 308,482Z"/>
<path fill="#0000f5" d="M301,463 319,459 329,463 323,471 311,473 303,479Z"/>
<path fill="url(#m11)" d="M301,463 319,459 329,463 323,471 311,473 303,479Z"/>
<path fill="#0000f5" d="M235,475 247,471 259,479 255,495 243,510 235,510Z"/>
<path fill="url(#m11)" d="M235,475 247,471 259,479 255,495 243,510 235,510Z"/>
<path fill="#009bd7" d="M405,423 410,421 410,443 405,439Z"/>
<path fill="#0a50f0" d="M375,361 387,357 410,353 410,395 395,393 379,395 375,387 379,380Z"/>
<path fill="url(#m10)" d="M375,361 387,357 410,353 410,395 395,393 379,395 375,387 379,380Z"/>
<path fill="#009bd7" d="M382,343 388,340 392,347 389,355 383,353Z"/>
<path fill="#0090ff" d="M410,250 585,250 585,425 410,425Z"/>
<path fill="#0a50f0" d="M422,250 476,250 474,266 476,278 470,286 464,274 456,266 442,264 430,270 420,268Z"/>
<path fill="url(#m10)" d="M422,250 476,250 474,266 476,278 470,286 464,274 456,266 442,264 430,270 420,268Z"/>
<path fill="#0a50f0" d="M430,298 446,294 464,293 464,302 450,308 446,322 447,344 436,346 428,330 428,310Z"/>
<path fill="url(#m10)" d="M430,298 446,294 464,293 464,302 450,308 446,322 447,344 436,346 428,330 428,310Z"/>
<path fill="#0a50f0" d="M456,334 464,324 472,317 477,322 474,334 468,342 460,344Z"/>
<path fill="url(#m10)" d="M456,334 464,324 472,317 477,322 474,334 468,342 460,344Z"/>
<path fill="#0a50f0" d="M416,330 426,328 430,338 428,346 418,344Z"/>
<path fill="url(#m10)" d="M416,330 426,328 430,338 428,346 418,344Z"/>
<path fill="#009bd7" d="M432,354 450,352 466,370 452,378 454,394 450,410 442,425 410,425 410,400 418,386 428,370Z"/>
<path fill="#0a50f0" d="M452,378 466,370 476,378 486,386 484,410 476,425 442,425 450,410 454,394Z"/>
<path fill="url(#m10)" d="M452,378 466,370 476,378 486,386 484,410 476,425 442,425 450,410 454,394Z"/>
<path fill="#009bd7" d="M520,250 585,250 585,425 496,425 494,394 502,378 490,370 488,354 504,350 506,338 498,330 486,330 484,322 490,308 504,310 514,298 518,286Z"/>
<path fill="#0090ff" d="M504,316 514,310 522,316 530,324 520,334 508,338 502,330Z"/>
<path fill="#009bd7" d="M480,268 494,261 503,260 502,270 494,277 482,274Z"/>
<path fill="#009bd7" d="M448,282 454,280 459,287 453,288Z"/>
<path fill="#009b3c" d="M550,250 585,250 585,366 576,374 566,374 572,358 566,346 550,342 538,354 526,364 514,368 506,372 500,362 506,344 520,334 530,324 522,316 514,308 498,307 505,298 512,304 518,286 528,280 538,286 550,284 554,270Z"/>
<path fill="#009b3c" d="M585,362 578,374 566,378 558,390 550,398 538,398 530,408 522,410 514,406 504,408 498,418 498,425 585,425Z"/>
<path fill="#009b3c" d="M514,390 524,383 530,390 524,396 516,395Z"/>
<path fill="#0090ff" d="M532,368 538,367 539,372 533,372.4Z"/>
<path fill="#0090ff" d="M546,386 552,382 555,388 550,395 546,392Z"/>
<path fill="#0ad214" d="M520,336 530,330 536,316 542,313 546,320 547,334 540,342 530,345 522,342Z"/>
<path fill="#0ad214" d="M554,334 562,324 570,306 578,300 585,302 585,330 578,334 568,330 560,340Z"/>
<path fill="#0ad214" d="M573,334 580,331 582,340 576,346 573,342Z"/>
<path fill="#0ad214" d="M554,406 562,394 574,386 580,370 585,364 585,425 550,425 558,416Z"/>
<path fill="#009b3c" d="M570,402 578,396 584,404 580,412 572,410Z"/>
<path fill="#5aff78" d="M580,386 585,384 585,398 581,396Z"/>
<path fill="#5aff78" d="M564,414 568,410 570,420 565,422Z"/>
<path fill="#0ad214" d="M498,414 506,408 516,410 522,416 524,425 498,425Z"/>
<path fill="#5aff78" d="M510,420 516,416 521,425 510,425Z"/>
<path fill="#009b3c" d="M414,394 422,390 432,392 438,406 436,420 426,425 416,422Z"/>
<path fill="#0ad214" d="M418,398 426,394 434,402 436,414 428,422 418,420Z"/>
<path fill="#009b3c" d="M434,374 440,372 446,378 452,380 450,386 442,388 436,382Z"/>
<path fill="#009b3c" d="M442,354 448,352 447,362 442,365Z"/>
<path fill="#0090ff" d="M583,328 585,327 585,340 583,339Z"/>
<path fill="#0ad214" d="M585,250 735,250 735,425 585,425Z"/>
<path fill="#0ad214" d="M560,250 585,250 585,425 560,425Z"/>
<path fill="#009b3c" d="M560,250 618,250 617,274 606,282 596,288 590,298 580,300 570,306 560,318Z"/>
<path fill="#0ad214" d="M583,252 590,250 598,252 598,259 590,260Z"/>
<path fill="#009b3c" d="M652,264 664,258 680,250 688,250 686,266 682,280 672,294 671,310 656,312 653,302 656,286 652,274Z"/>
<path fill="#009b3c" d="M700,292 708,288 716,294 714,304 704,306 700,300Z"/>
<path fill="#009b3c" d="M675,318 684,316 688,322 682,326 676,324Z"/>
<path fill="#009b3c" d="M617,330 622,328 625,333 621,338 617,335Z"/>
<path fill="#009b3c" d="M712,250 718,250 720,262 714,260Z"/>
<path fill="#009bd7" d="M560,356 570,354 573,362 570,372 560,376Z"/>
<path fill="#009b3c" d="M570,404 578,397 586,402 584,410 574,412Z"/>
<path fill="#009bd7" d="M591,274 600,271 608,274 605,278 594,280Z"/>
<path fill="#009bd7" d="M663,262 672,253 678,252 683,260 682,272 676,278 668,276 664,270Z"/>
<path fill="#0090ff" d="M669,262 675,256 680,262 678,270 672,271Z"/>
<path fill="#0090ff" d="M583,330 590,326 597,330 601,340 599,350 592,351 586,345Z"/>
<path fill="#0a50f0" d="M587,334 592,332 596,338 596,346 591,346Z"/>
<path fill="#5aff78" d="M618,274 628,268 634,254 640,250 648,262 650,278 654,288 648,296 636,296 626,300 624,310 616,312 615,300 616,286Z"/>
<path fill="#5aff78" d="M684,250 708,250 708,262 716,270 740,276 740,290 712,286 700,290 692,294 686,288 685,274 688,262Z"/>
<path fill="#c8ff50" d="M692,250 702,250 700,256 694,255Z"/>
<path fill="#5aff78" d="M688,306 698,308 712,308 740,306 740,318 700,322 680,330 660,336 648,344 640,340 648,330 664,326 680,320 688,316Z"/>
<path fill="#5aff78" d="M582,368 600,350 618,346 632,338 644,334 648,344 620,358 600,370 588,390 584,410 590,425 582,425 578,390Z"/>
<path fill="#c8ff50" d="M600,354 616,350 630,342 644,336 660,330 680,324 700,318 712,310 740,310 740,425 588,425 582,410 580,390 588,370Z"/>
<path fill="#ffff00" d="M606,362 620,352 632,356 644,344 664,334 684,328 704,320 740,318 740,425 594,425 590,410 588,394 594,374Z"/>
<path fill="#d2c878" d="M600,386 602,374 612,370 622,359 630,362 634,378 630,390 626,402 618,410 608,408 606,396Z"/>
<path fill="#d2c878" d="M654,358 664,346 684,336 704,334 720,338 740,342 740,425 656,425 654,390 658,374Z"/>
<path fill="#c8c8f0" d="M611,378 616,373 622,376 625,388 623,398 618,397 613,390Z"/>
<path fill="#c8c8f0" d="M662,370 668,362 680,354 688,338 694,334 700,344 712,354 740,358 740,425 656,425 656,390Z"/>
<path fill="#f5f5f5" d="M614,380 618,376 622,382 623,392 620,395 616,390Z"/>
<path fill="#f5f5f5" d="M658,386 666,374 680,362 696,354 708,358 720,364 740,364 740,425 658,425Z"/>
<path fill="#c8c8f0" d="M677,378 684,372 693,374 697,382 692,389 682,389 677,384Z"/>
<path fill="#0ad214" d="M641,374 646,369 652,370 653,380 649,384 643,382Z"/>
<path fill="#0000f5" d="M235,510 410,510 410,685 235,685Z"/>
<path fill="url(#m11)" d="M235,510 410,510 410,685 235,685Z"/>
<path fill="#aa0a9e" d="M235,540 255,534 275,532 305,532 319,530 331,522 347,522 355,538 363,550 367,568 363,586 355,594 343,590 335,582 323,574 320,568 323,565 321,562 314,562.4 307,566 303,576 295,576 285,576 283,586 301,594 307,604 303,610 295,608 285,606 283,598 279,592 273,589 267,587 261,590 255,596 247,602 241,608 235,611Z"/>
<path fill="url(#m14)" d="M235,540 255,534 275,532 305,532 319,530 331,522 347,522 355,538 363,550 367,568 363,586 355,594 343,590 335,582 323,574 320,568 323,565 321,562 314,562.4 307,566 303,576 295,576 285,576 283,586 301,594 307,604 303,610 295,608 285,606 283,598 279,592 273,589 267,587 261,590 255,596 247,602 241,608 235,611Z"/>
<path fill="#d200d2" d="M259,550 269,544 283,548 295,546 303,550 301,560 291,562 285,568 275,568 267,562 261,558Z"/>
<path fill="#d200d2" d="M315,550 323,548 331,552 339,556 337,564 329,566 321,561 317,556Z"/>
<path fill="#d200d2" d="M321,568 329,566 335,572 343,580 347,590 343,590 335,582 325,574Z"/>
<path fill="#be00be" d="M343,570 355,568 361,576 359,588 351,590 345,580Z"/>
<path fill="#d200d2" d="M267,580 275,582 285,590 295,590 303,596 305,604 299,606 291,602 285,596 279,590 271,586Z"/>
<path fill="#be00be" d="M241,590 249,586 255,590 251,596 243,598Z"/>
<path fill="#0000f5" d="M247,566 265,564 285,568 304,574 306,588 299,590 287,586 275,580 261,578 251,576Z"/>
<path fill="url(#m11)" d="M247,566 265,564 285,568 304,574 306,588 299,590 287,586 275,580 261,578 251,576Z"/>
<path fill="#0a50f0" d="M255,510 309,510 309,529 275,530 255,532Z"/>
<path fill="url(#m10)" d="M255,510 309,510 309,529 275,530 255,532Z"/>
<path fill="#0000f5" d="M261,514 275,512 281,520 271,526 263,522Z"/>
<path fill="url(#m11)" d="M261,514 275,512 281,520 271,526 263,522Z"/>
<path fill="#3c14f0" d="M301,536 311,534 315,540 307,544Z"/>
<path fill="url(#m12)" d="M301,536 311,534 315,540 307,544Z"/>
<path fill="#3c14f0" d="M247,540 257,538 259,546 251,550Z"/>
<path fill="url(#m12)" d="M247,540 257,538 259,546 251,550Z"/>
<path fill="#0000f5" d="M343,546 353,544 357,556 349,562 343,556Z"/>
<path fill="url(#m11)" d="M343,546 353,544 357,556 349,562 343,556Z"/>
<path fill="#0a50f0" d="M289,578 299,578 303,584 295,585Z"/>
<path fill="url(#m10)" d="M289,578 299,578 303,584 295,585Z"/>
<path fill="#0a50f0" d="M245,560 255,558 261,568 257,582 249,586 244,576Z"/>
<path fill="url(#m10)" d="M245,560 255,558 261,568 257,582 249,586 244,576Z"/>
<path fill="#0a50f0" d="M309,516 323,510 347,510 349,526 339,536 329,540 319,532 311,528Z"/>
<path fill="url(#m10)" d="M309,516 323,510 347,510 349,526 339,536 329,540 319,532 311,528Z"/>
<path fill="#0090ff" d="M331,518 343,514 347,524 339,532 331,528Z"/>
<path fill="url(#m9)" d="M331,518 343,514 347,524 339,532 331,528Z"/>
<path fill="#961ed2" d="M235,510 255,510 253,522 243,528 235,526Z"/>
<path fill="url(#m13)" d="M235,510 255,510 253,522 243,528 235,526Z"/>
<path fill="#aa0a9e" d="M243,516 249,515 251,521 245,523Z"/>
<path fill="url(#m14)" d="M243,516 249,515 251,521 245,523Z"/>
<path fill="#0a50f0" d="M351,510 410,510 410,590 395,594 383,590 375,598 367,586 367,568 363,550 355,538 349,522Z"/>
<path fill="url(#m10)" d="M351,510 410,510 410,590 395,594 383,590 375,598 367,586 367,568 363,550 355,538 349,522Z"/>
<path fill="#0090ff" d="M363,534 375,528 387,530 391,540 383,548 373,550 365,544Z"/>
<path fill="url(#m9)" d="M363,534 375,528 387,530 391,540 383,548 373,550 365,544Z"/>
<path fill="#0090ff" d="M383,570 393,568 399,576 395,586 387,588 382,580Z"/>
<path fill="url(#m9)" d="M383,570 393,568 399,576 395,586 387,588 382,580Z"/>
<path fill="#009bd7" d="M387,574 393,573 395,580 389,583Z"/>
<path fill="#0000f5" d="M395,546 410,540 410,570 401,568 395,558Z"/>
<path fill="url(#m11)" d="M395,546 410,540 410,570 401,568 395,558Z"/>
<path fill="#aa0a9e" d="M353,510 363,510 365,516 359,520 354,516Z"/>
<path fill="url(#m14)" d="M353,510 363,510 365,516 359,520 354,516Z"/>
<path fill="#aa0a9e" d="M379,510 395,510 393,518 385,521 380,516Z"/>
<path fill="url(#m14)" d="M379,510 395,510 393,518 385,521 380,516Z"/>
<path fill="#961ed2" d="M371,600 383,596 395,604 397,618 395,626 389,624 383,619 375,614Z"/>
<path fill="url(#m13)" d="M371,600 383,596 395,604 397,618 395,626 389,624 383,619 375,614Z"/>
<path fill="#aa0a9e" d="M375,604 383,600 391,606 393,618 389,624 383,619 377,614Z"/>
<path fill="url(#m14)" d="M375,604 383,600 391,606 393,618 389,624 383,619 377,614Z"/>
<path fill="#aa0a9e" d="M391,626 399,628 403,640 402,654 405,664 401,666 393,658 389,646Z"/>
<path fill="url(#m14)" d="M391,626 399,628 403,640 402,654 405,664 401,666 393,658 389,646Z"/>
<path fill="#0090ff" d="M401,604 410,600 410,618 403,616Z"/>
<path fill="url(#m9)" d="M401,604 410,600 410,618 403,616Z"/>
<path fill="#0a50f0" d="M311,594 319,598 323,610 323,622 329,634 343,642 355,646 367,650 379,654 382,658 375,658 363,654 355,654 347,650 339,654 331,648 323,642 315,638 307,630 311,618 309,606Z"/>
<path fill="url(#m10)" d="M311,594 319,598 323,610 323,622 329,634 343,642 355,646 367,650 379,654 382,658 375,658 363,654 355,654 347,650 339,654 331,648 323,642 315,638 307,630 311,618 309,606Z"/>
<path fill="#0090ff" d="M315,600 321,604 324,616 323,626 319,622 315,610Z"/>
<path fill="url(#m9)" d="M315,600 321,604 324,616 323,626 319,622 315,610Z"/>
<path fill="#0090ff" d="M347,636 359,640 371,646 379,652 373,654 363,650 353,646 345,642Z"/>
<path fill="url(#m9)" d="M347,636 359,640 371,646 379,652 373,654 363,650 353,646 345,642Z"/>
<path fill="#009bd7" d="M320,610 325,612 329,619 339,625 353,626 355,634 363,640 355,642 343,638 331,636 323,632 320,622Z"/>
<path fill="#009b3c" d="M323,614 330,621 338,627 352,627 352,633 344,635 334,633.6 325,630 322,622Z"/>
<path fill="#0ad214" d="M324,617 329,622 337,628 347,627 352,628 351,632 344,634 335,632 327,628 324,623Z"/>
<path fill="#c8ff50" d="M335,628.4 340,628 341,630.6 336,631.2Z"/>
<path fill="#0090ff" d="M288,610 295,608 301,616 297,620 291,618Z"/>
<path fill="url(#m9)" d="M288,610 295,608 301,616 297,620 291,618Z"/>
<path fill="#0a50f0" d="M312,640 389,640 389,700 312,700Z"/>
<path fill="url(#m10)" d="M312,640 389,640 389,700 312,700Z"/>
<path fill="#0000f5" d="M349,666 363,668 367,680 363,686 355,699 350,696 355,684Z"/>
<path fill="url(#m11)" d="M349,666 363,668 367,680 363,686 355,699 350,696 355,684Z"/>
<path fill="#0090ff" d="M359,640 373,648 379,652 382,658 379,663 375,658 369,653 359,648Z"/>
<path fill="url(#m9)" d="M359,640 373,648 379,652 382,658 379,663 375,658 369,653 359,648Z"/>
<path fill="#0090ff" d="M331,640 359,640 359,652 347,656 335,650Z"/>
<path fill="url(#m9)" d="M331,640 359,640 359,652 347,656 335,650Z"/>
<path fill="#0a50f0" d="M389,640 410,640 410,692 407,672 393,658Z"/>
<path fill="url(#m10)" d="M389,640 410,640 410,692 407,672 393,658Z"/>
<path fill="#aa0a9e" d="M390,640 399,640 401,652 405,660 401,666 393,658Z"/>
<path fill="url(#m14)" d="M390,640 399,640 401,652 405,660 401,666 393,658Z"/>
<path fill="#0ad214" d="M407.4,680 410,680 410,689 407.4,688Z"/>
<path fill="#ffff00" d="M235,716 295,716 295,780 355,796 355,815 235,815Z"/>
<path fill="#0090ff" d="M235,717 245,719 253,722 263,720 263,724 253,728 243,726 235,724Z"/>
<path fill="url(#m9)" d="M235,717 245,719 253,722 263,720 263,724 253,728 243,726 235,724Z"/>
<path fill="#009b3c" d="M235,724 243,726 253,728 263,722 275,715 283,718 285,724 293,720 291,728 286,736 290,740 294,744 293,752 283,752 275,748 267,756 257,758 255,748 251,734 243,730 235,734Z"/>
<path fill="#0ad214" d="M235,728 243,729 251,734 255,748 257,760 235,760Z"/>
<path fill="#0ad214" d="M263,726 275,718 282,720 285,726 291,726 287,736 293,744 292,752 283,752 277,746 267,754 259,752 260,736Z"/>
<path fill="#c8ff50" d="M235,736 243,734 249,740 253,752 253,760 235,760Z"/>
<path fill="#c8ff50" d="M265,730 275,724 283,724 285,736 289,744 283,750 275,746 267,748 262,740Z"/>
<path fill="#ffff00" d="M237,744 243,740 249,748 250,758 237,758Z"/>
<path fill="#ffff00" d="M269,734 277,728 283,730 284,740 280,748 273,744 267,740Z"/>
<path fill="#d2c878" d="M269,736 274,733 277,737 274,743 270,741Z"/>
<path fill="#d2c878" d="M235,756 259,756 275,762 277,772 265,776 259,784 259,796 279,794 281,806 263,810 259,815 235,815Z"/>
<path fill="#c8c8f0" d="M235,758 257,757 271,762 275,770 263,774 257,782 255,792 261,800 275,798 277,804 261,808 257,815 235,815Z"/>
<path fill="#f5f5f5" d="M235,760 255,758 267,760 273,768 261,772 255,780 251,792 257,800 255,815 235,815Z"/>
<path fill="#c8ff50" d="M259,784 265,778 271,780 273,792 265,798 260,794Z"/>
<path fill="#c8c8f0" d="M301,790 307,792 315,794 313,806 309,812 303,806Z"/>
<path fill="#f5f5f5" d="M308,804 312,805 312,811 308.6,810Z"/>
<path fill="#c8c8f0" d="M282,758 289,757 290,764 283,765Z"/>
<path fill="#0ad214" d="M282,781 288,780 291,786 285,789Z"/>
<path fill="#c8ff50" d="M315,794 323,792 339,796 349,800 353,810 347,815 321,815 315,804Z"/>
<path fill="#0ad214" d="M321,795 329,792 341,798 345,806 335,808 325,804Z"/>
<path fill="#009b3c" d="M325,797 331,794 341,800 341,806 331,806Z"/>
<path fill="#009bd7" d="M331,798 337,797 339,803 334,805Z"/>
<path fill="#c8ff50" d="M255,815 261,808 275,804 295,803 307,808 311,815Z"/>
<path fill="#0ad214" d="M261,815 267,809 279,806 295,805 305,810 308,815Z"/>
<path fill="#009bd7" d="M269,815 275,810 295,807 303,812 305,815Z"/>
<path fill="#0a50f0" d="M275,815 280,811 295,809 302,815Z"/>
<path fill="url(#m10)" d="M275,815 280,811 295,809 302,815Z"/>
<path fill="#3c14f0" d="M280,815 285,811 295,810 300,815Z"/>
<path fill="url(#m12)" d="M280,815 285,811 295,810 300,815Z"/>
<path fill="#be00be" d="M285,815 289,812 295,811.6 298,815Z"/>
<path fill="#0000f5" d="M39.4,567.2 159.4,567.2 207.4,596 207.4,639.2 149.8,713.6 73,718.4 39.4,689.6Z"/>
<path fill="url(#m11)" d="M39.4,567.2 159.4,567.2 207.4,596 207.4,639.2 149.8,713.6 73,718.4 39.4,689.6Z"/>
<path fill="#aa0a9e" d="M62.2,576.8 77.8,570.1 97,579.2 121,586.4 145,592.4 159.4,600.8 173.8,608 183.4,612.8 178.6,615.2 164.2,608 149.8,603.2 137.8,600.8 125.8,598.4 109,593.6 97,591.2 82.6,588.8 73,591.2 65.8,598.4 63.4,588.8Z"/>
<path fill="url(#m14)" d="M62.2,576.8 77.8,570.1 97,579.2 121,586.4 145,592.4 159.4,600.8 173.8,608 183.4,612.8 178.6,615.2 164.2,608 149.8,603.2 137.8,600.8 125.8,598.4 109,593.6 97,591.2 82.6,588.8 73,591.2 65.8,598.4 63.4,588.8Z"/>
<path fill="#be00be" d="M63.4,578 73,573.2 80.2,576.8 77.8,586.4 70.6,591.2 64.6,586.4Z"/>
<path fill="#be00be" d="M97,584 109,586.4 121,591.2 116.2,596 101.8,591.2Z"/>
<path fill="#961ed2" d="M64.6,600.8 73,596 82.6,600.8 80.2,615.2 75.4,629.6 77.8,641.6 70.6,644 65.8,632 63.4,617.6Z"/>
<path fill="url(#m13)" d="M64.6,600.8 73,596 82.6,600.8 80.2,615.2 75.4,629.6 77.8,641.6 70.6,644 65.8,632 63.4,617.6Z"/>
<path fill="#aa0a9e" d="M65.8,617.6 71.8,615.2 76.6,629.6 73,636.8 68.2,629.6Z"/>
<path fill="url(#m14)" d="M65.8,617.6 71.8,615.2 76.6,629.6 73,636.8 68.2,629.6Z"/>
<path fill="#aa0a9e" d="M80.2,632 92.2,633.2 104.2,636.8 116.2,632 118.6,636.8 106.6,642.8 97,644 85,639.2Z"/>
<path fill="url(#m14)" d="M80.2,632 92.2,633.2 104.2,636.8 116.2,632 118.6,636.8 106.6,642.8 97,644 85,639.2Z"/>
<path fill="#0090ff" d="M92.2,600.8 106.6,598.4 121,603.2 128.2,608 125.8,620 116.2,629.6 106.6,627.2 97,622.4 89.8,612.8Z"/>
<path fill="url(#m9)" d="M92.2,600.8 106.6,598.4 121,603.2 128.2,608 125.8,620 116.2,629.6 106.6,627.2 97,622.4 89.8,612.8Z"/>
<path fill="#009bd7" d="M101.8,617.6 111.4,615.2 116.2,622.4 109,627.2 101.8,624.8Z"/>
<path fill="#0a50f0" d="M73,665.6 85,660.8 97,665.6 104.2,672.8 94.6,680 82.6,684.8 73,680Z"/>
<path fill="url(#m10)" d="M73,665.6 85,660.8 97,665.6 104.2,672.8 94.6,680 82.6,684.8 73,680Z"/>
<path fill="#009bd7" d="M130.6,608 145,605.6 159.4,612.8 178.6,617.6 193,620 201.4,617.6 202.6,622.4 193,632 183.4,636.8 173.8,640.4 169,646.4 161.8,656 157,663.2 155.8,672.8 160.6,678.8 154.6,684.8 147.4,694.4 140.2,699.2 130.6,704 125.8,708.8 116.2,706.4 106.6,705.2 97,706.4 89.8,711.2 82.6,704 77.8,694.4 80.2,684.8 92.2,680 101.8,672.8 106.6,660.8 109,648.8 121,644 130.6,639.2 135.4,627.2 130.6,617.6Z"/>
<path fill="#0ad214" d="M135.4,610.4 149.8,608 159.4,615.2 154.6,624.8 145,632 142.6,641.6 133,644 121,648.8 109,653.6 106.6,665.6 104.2,675.2 92.2,684.8 82.6,689.6 80.2,696.8 85,706.4 97,706.4 116.2,706.4 125.8,708.8 140.2,699.2 154.6,684.8 160.6,678.8 155.8,672.8 157,663.2 169,646.4 183.4,636.8 193,632 197.8,627.2 188.2,624.8 173.8,622.4 164.2,620Z"/>
<path fill="#5aff78" d="M149.8,622.4 159.4,620 173.8,624.8 183.4,629.6 188.2,632 173.8,640.4 161.8,656 155.8,672.8 159.4,678.8 147.4,694.4 130.6,704 121,704 118.6,694.4 125.8,684.8 133,675.2 121,665.6 109,663.2 106.6,656 121,653.6 135.4,648.8 142.6,639.2Z"/>
<path fill="#ffff00" d="M154.6,629.6 164.2,624.8 178.6,629.6 183.4,634.4 173.8,640.4 169,646.4 161.8,656 157,663.2 155.8,672.8 160.6,678.8 154.6,684.8 147.4,694.4 140.2,699.2 130.6,704 125.8,708.8 118.6,704 121,696.8 130.6,689.6 140.2,680 145,668 142.6,656 145,644Z"/>
<path fill="#c8c8f0" d="M130.6,696.8 137.8,690.8 147.4,686 152.2,687.2 147.4,694.4 140.2,699.2 133,701.6Z"/>
<path fill="#f5f5f5" d="M123.4,705.2 128.2,704 129.4,707.6 125.8,709.3Z"/>
<path fill="#009b3c" d="M121,660.8 130.6,658.4 137.8,665.6 137.8,675.2 128.2,677.6 121,670.4Z"/>
<path fill="#0090ff" d="M79,694.4 87.4,690.8 94.6,696.8 92.2,704 85,708.8 80.2,704Z"/>
<path fill="url(#m9)" d="M79,694.4 87.4,690.8 94.6,696.8 92.2,704 85,708.8 80.2,704Z"/>
<path fill="#0000f5" d="M83.8,698 88.6,696.8 89.8,701.6 85,702.8Z"/>
<path fill="url(#m11)" d="M83.8,698 88.6,696.8 89.8,701.6 85,702.8Z"/>
<path fill="#0ad214" d="M76.6,717.2 86.2,717.2 89.8,725.6 94.6,730.4 104.2,731.6 113.8,732.8 118.6,737.6 116.2,752 113.8,770 10,770 10,759.2 49,749.6 63.4,744.8 73,725.6Z"/>
<path fill="#009bd7" d="M76.6,719.6 85,718.4 92.2,728 93.4,737.6 87.4,742.4 77.8,740 71.8,732.8Z"/>
<path fill="#0090ff" d="M79,725.6 86.2,723.2 91,730.4 88.6,738.8 81.4,738.8 76.6,732.8Z"/>
<path fill="url(#m9)" d="M79,725.6 86.2,723.2 91,730.4 88.6,738.8 81.4,738.8 76.6,732.8Z"/>
<path fill="#009b3c" d="M68.2,735.2 80.2,742.4 97,744.8 106.6,752 109,761.6 97,766.4 82.6,761.6 73,756.8 65.8,747.2Z"/>
<path fill="#c8ff50" d="M92.2,730.4 104.2,730.9 115,732.8 121,737.6 118.6,752 109,755.6 101.8,747.2 94.6,740Z"/>
<path fill="#ffff00" d="M94.6,731.6 104.2,731.6 113.8,732.8 119.8,737.6 117.4,749.6 111.4,752 104.2,744.8 97,740Z"/>
<path fill="#c8ff50" d="M39.4,753.2 53.8,749.6 61,754.4 56.2,766.4 49,770 44.2,770 51.4,759.2Z"/>
<path fill="#ffff00" d="M10,759.2 37,754.4 46.6,752 51.4,759.2 44.2,770 10,770Z"/>
<path fill="#d2c878" d="M119.8,737.6 128.2,738.8 137.8,732.8 145,731.6 154.6,728 159.4,732.8 169,737.6 178.6,742.4 173.8,752 159.4,756.8 145,754.4 130.6,759.2 128.2,770 115,770 117.4,752Z"/>
<path fill="#ffff00" d="M145,731.6 154.6,728 166.6,724.4 178.6,723.2 190.6,718.4 197.8,719.6 207.4,718.4 217,723.2 226.6,720.8 235,717.2 235,737.6 217,740 197.8,737.6 178.6,740 164.2,736.4 154.6,732.8Z"/>
<path fill="#0ad214" d="M166.6,724.4 178.6,723.2 190.6,718.4 197.8,719.6 207.4,718.4 217,723.2 214.6,732.8 202.6,732.8 193,737.6 181,735.2 171.4,730.4Z"/>
<path fill="#009bd7" d="M185.8,725.6 193,723.2 195.4,732.8 188.2,737.6 183.4,732.8Z"/>
<path fill="#0090ff" d="M226.6,720.8 235,717.2 235,728 229,728Z"/>
<path fill="url(#m9)" d="M226.6,720.8 235,717.2 235,728 229,728Z"/>
<path fill="#c8ff50" d="M157,728 169,725.6 173.8,732.8 164.2,735.2Z"/>
<path fill="#d2c878" d="M159.4,756.8 173.8,742.4 197.8,738.8 217,741.2 235,738.8 235,752 178.6,766.4 169,764Z"/>
<path fill="#c8c8f0" d="M130.6,759.2 145,754.4 159.4,756.8 173.8,752 183.4,744.8 197.8,741.2 217,743.6 235,749.6 235,770 128.2,770Z"/>
<path fill="#f5f5f5" d="M193,746 207.4,742.4 226.6,750.8 235,755.6 235,770 207.4,770 197.8,759.2Z"/>
<path fill="#f5f5f5" d="M137.8,761.6 147.4,758 154.6,764 149.8,770 135.4,770Z"/>
<path fill="#0090ff" d="M410,425 585,425 585,600 410,600Z"/>
<path fill="#0ad214" d="M498,425 585,425 585,521 570,513 558,517 550,521 548,529 543,535 537,537 534,527 524,523 530,511 510,505 498,513 494,533 489,549 486,565 487,573 482,589 481,600 474,600 476,581 470,569 462,563 460,553 470,545 476,537 486,529 490,513 488,501 490,485 488,465 494,445Z"/>
<path fill="#009b3c" d="M488,461 498,455 506,459 510,467 502,477 496,489 490,491Z"/>
<path fill="#009b3c" d="M528,473 538,465 546,469 548,481 542,493 534,497 528,489Z"/>
<path fill="#009b3c" d="M542,433 554,425 570,425 576,437 570,447 558,445 548,443Z"/>
<path fill="#009b3c" d="M534,509 546,505 554,513 550,521 548,529 543,535 537,537 534,527 530,519Z"/>
<path fill="#009b3c" d="M472,581 478,565 484,569 482,585 480,599 475,600Z"/>
<path fill="#009b3c" d="M574,501 585,497 585,521 578,515 570,513Z"/>
<path fill="#009bd7" d="M528,443 534,433 542,431 546,439 542,451 534,453 529,449Z"/>
<path fill="#0090ff" d="M536,439 541,437 542,445 538,448Z"/>
<path fill="#0090ff" d="M576,441 582,437 584,445 579,448Z"/>
<path fill="#0090ff" d="M510,508 522,507 524,512 518,513 512,511Z"/>
<path fill="#009bd7" d="M524,519 528,517 530,523 526,525Z"/>
<path fill="#5aff78" d="M506,429 514,425 520,429 518,437 510,437Z"/>
<path fill="#5aff78" d="M506,471 514,465 522,471 524,483 520,493 528,495 526,501 518,499 510,493 504,485 502,477Z"/>
<path fill="#5aff78" d="M526,461 532,458 536,463 532,468 527,466Z"/>
<path fill="#5aff78" d="M546,487 552,482 556,487 550,495Z"/>
<path fill="#5aff78" d="M570,465 576,455 584,455 585,477 578,485 576,477 580,469Z"/>
<path fill="#5aff78" d="M578,489 585,485 585,497 580,499Z"/>
<path fill="#5aff78" d="M496,493 504,485 510,493 504,505 498,513 494,517 494,505Z"/>
<path fill="#c8ff50" d="M498,493 504,487 510,495 504,504 499,509 496,505Z"/>
<path fill="#ffff00" d="M504,483 510,478 516,483 518,491 512,494 506,491Z"/>
<path fill="#ffff00" d="M520,495 525,494 527,499 522,501Z"/>
<path fill="#5aff78" d="M476,561 484,557 487,565 487,573 482,571 478,567Z"/>
<path fill="#c8ff50" d="M479,559 484,558 486,565 481,565Z"/>
<path fill="#0a50f0" d="M454,435 462,431 470,437 474,425 486,425 486,441 480,451 470,453 462,447 456,445Z"/>
<path fill="#0000f5" d="M474,443 480,440 485,445 482,453 476,454Z"/>
<path fill="url(#m11)" d="M474,443 480,440 485,445 482,453 476,454Z"/>
<path fill="#0a50f0" d="M452,475 460,469 470,465 476,473 470,481 462,485 454,483Z"/>
<path fill="url(#m10)" d="M452,475 460,469 470,465 476,473 470,481 462,485 454,483Z"/>
<path fill="#0000f5" d="M410,487 422,483 432,491 430,503 422,505 410,509Z"/>
<path fill="url(#m11)" d="M410,487 422,483 432,491 430,503 422,505 410,509Z"/>
<path fill="#3c14f0" d="M412,493 420,491 422,499 414,502Z"/>
<path fill="url(#m12)" d="M412,493 420,491 422,499 414,502Z"/>
<path fill="#0a50f0" d="M410,509 422,513 436,511 450,515 460,525 462,537 454,549 442,557 430,565 422,569 410,565Z"/>
<path fill="url(#m10)" d="M410,509 422,513 436,511 450,515 460,525 462,537 454,549 442,557 430,565 422,569 410,565Z"/>
<path fill="#0000f5" d="M434,545 442,541 452,543 454,551 446,555 436,553Z"/>
<path fill="url(#m11)" d="M434,545 442,541 452,543 454,551 446,555 436,553Z"/>
<path fill="#0000f5" d="M410,545 420,543 428,549 426,561 416,565 410,563Z"/>
<path fill="url(#m11)" d="M410,545 420,543 428,549 426,561 416,565 410,563Z"/>
<path fill="#3c14f0" d="M412,551 418,549 420,557 414,560Z"/>
<path fill="url(#m12)" d="M412,551 418,549 420,557 414,560Z"/>
<path fill="#be00be" d="M411.6,531 415,530.6 415.6,535 412.4,535.4Z"/>
<path fill="#0a50f0" d="M422,585 436,581 450,585 462,593 460,600 422,600Z"/>
<path fill="url(#m10)" d="M422,585 436,581 450,585 462,593 460,600 422,600Z"/>
<path fill="#0000f5" d="M410,573 418,571 424,581 426,600 410,600Z"/>
<path fill="url(#m11)" d="M410,573 418,571 424,581 426,600 410,600Z"/>
<path fill="#009bd7" d="M414,449 422,447 426,457 422,465 416,461Z"/>
<path fill="#009b3c" d="M418,453 423,452 424,460 420,462Z"/>
<path fill="#0000f5" d="M470,489 478,487 480,495 474,497Z"/>
<path fill="url(#m11)" d="M470,489 478,487 480,495 474,497Z"/>
<path fill="#0ad214" d="M540,589 546,583 554,579 564,573 568,577 574,574 580,579 585,578 585,600 530,600 534,595Z"/>
<path fill="#0090ff" d="M570,577 576,575 582,580 585,579 585,585 576,583Z"/>
<path fill="#0a50f0" d="M530,600 534,595 540,589 544,585 546,591 540,600Z"/>
<path fill="#3c14f0" d="M532,599 537,593 540,595 537,600Z"/>
<path fill="url(#m12)" d="M532,599 537,593 540,595 537,600Z"/>
<path fill="#c8ff50" d="M550,591 562,585 578,587 585,589 585,600 550,600Z"/>
<path fill="#ffff00" d="M562,591 570,588 580,591 585,593 585,600 564,600Z"/>
<path fill="#d2c878" d="M566,595 576,593 584,596 585,600 566,600Z"/>
<path fill="#0ad214" d="M590,425 735,425 735,600 560,600 560,425Z"/>
<path fill="#ffff00" d="M680,473 735,473 735,513 716,509 706,504 698,498 690,492 684,484Z"/>
<path fill="#f5f5f5" d="M668,425 735,425 735,473 680,473 672,470 669,461 669,445 672,437Z"/>
<path fill="#009b3c" d="M560,425 576,425 572,437 580,449 572,457 570,473 560,481Z"/>
<path fill="#009bd7" d="M575,441 582,436 588,438 587,447 580,450 576,447Z"/>
<path fill="#5aff78" d="M586,445 600,437 610,431 620,425 626,435 626,457 620,481 626,499 640,509 636,513 620,505 610,497 596,495 584,491 580,481 586,465 592,455Z"/>
<path fill="#c8ff50" d="M594,449 599,447 600,452 596,455Z"/>
<path fill="#009b3c" d="M606,445 616,441 620,451 618,465 612,481 606,489 596,491 588,485 586,475 592,463 600,453Z"/>
<path fill="#009bd7" d="M590,475 596,465 604,461 609,465 607,479 600,489 593,486Z"/>
<path fill="#c8ff50" d="M618,425 624,425 626,445 624,465 628,483 634,495 644,505 640,509 628,499 622,485 620,465 622,445Z"/>
<path fill="#ffff00" d="M620,425 656,425 654,437 648,449 648,465 644,477 640,485 646,495 654,501 648,505 640,501 632,493 626,481 623,465 624,445Z"/>
<path fill="#ffff00" d="M648,501 664,499 680,503 696,499 708,502 740,511 740,529 716,521 700,517 688,513 680,507 664,505 654,509Z"/>
<path fill="#c8ff50" d="M696,499 708,502 740,511 740,521 712,515 700,509Z"/>
<path fill="#d2c878" d="M635,439 640,436 656,435 658,449 656,465 658,477 664,485 680,481 688,491 696,497 688,501 676,503 668,499 656,495 648,497 642,487 642,477 648,465 648,451 640,447Z"/>
<path fill="#c8c8f0" d="M651,451 656,445 656,435 658,425 680,425 678,431 672,437 669,445 672,451 670,459 672,467 680,473 682,479 672,482 664,483 658,477 654,465Z"/>
<path fill="#f5f5f5" d="M654,455 658,447 660,425 680,425 678,431 672,437 669,445 672,451 670,459 672,467 678,472 672,477 662,479 657,473 654,465Z"/>
<path fill="#c8c8f0" d="M646.4,494 651,486 657,487 654,496 649,499.4Z"/>
<path fill="#f5f5f5" d="M648,493 652,487 656,488 653,495 649,498Z"/>
<path fill="#f5f5f5" d="M707,425 740,425 740,461 718,453 712,449 704,447 703,443 715,438 706,433Z"/>
<path fill="#ffff00" d="M658,445 664,437 674,431 680,433 678,445 674,455 668,463 662,461 659,453Z"/>
<path fill="#5aff78" d="M660,447 666,440 675,435 678,441 675,453 669,461 663,459Z"/>
<path fill="#009bd7" d="M663,449 669,443 677,441 676,451 671,459 665,458Z"/>
<path fill="#0090ff" d="M666,449 672,444 677,443 675.6,451 671,457 667,456Z"/>
<path fill="#009bd7" d="M600,515 610,509 618,511 626,517 640,515 650,517 656,525 664,533 660,543 648,545 644,555 636,565 628,567 630,561 637,549 636,543 632,537 626,531 618,527 610,525Z"/>
<path fill="#0090ff" d="M603,516 611,511 617,514 620,521 612,524 606,521Z"/>
<path fill="#0a50f0" d="M607,515 613,513 616,518 610,521Z"/>
<path fill="#0a50f0" d="M637,537 644,533 648,525 656,527 663,534 660,542 650,544 644,553 636,563 629,565 633,557 637,549Z"/>
<path fill="#3c14f0" d="M638,541 644,537 646,543 640,553 635,561 632,563 636,553Z"/>
<path fill="url(#m12)" d="M638,541 644,537 646,543 640,553 635,561 632,563 636,553Z"/>
<path fill="#961ed2" d="M650,533 655,530 660,534 659,540 653,542 649.6,538Z"/>
<path fill="url(#m13)" d="M650,533 655,530 660,534 659,540 653,542 649.6,538Z"/>
<path fill="#aa0a9e" d="M634.4,553 638,548 639,555 636,561Z"/>
<path fill="url(#m14)" d="M634.4,553 638,548 639,555 636,561Z"/>
<path fill="#0ad214" d="M656,519 662,513 670,511 676,519 675,529 669,536 662,531 658,525Z"/>
<path fill="#5aff78" d="M658,521 664,517 668,523 666,531 661,529Z"/>
<path fill="#c8ff50" d="M662,521 666,520 667,527 663,528Z"/>
<path fill="#009bd7" d="M676,517 684,513 693,515 692,525 688,529 690,537 688,545 680,547 674,543 672,533 678,525Z"/>
<path fill="#0090ff" d="M683,516 690,514 692,519 687,521Z"/>
<path fill="#5aff78" d="M686,529 698,525 708,529 710,543 700,549 690,545Z"/>
<path fill="#0a50f0" d="M673,534 677,530 685,530 689,537 686,544 679,545 674,541Z"/>
<path fill="#961ed2" d="M674.4,535 678,531 684,531 687,537 684,543 679,544 675,540Z"/>
<path fill="url(#m13)" d="M674.4,535 678,531 684,531 687,537 684,543 679,544 675,540Z"/>
<path fill="#d200d2" d="M677,534 682,532 685,537 682,542 678,542Z"/>
<path fill="#ffff00" d="M689,533 696,529 703,533 704,541 698,545 691,541Z"/>
<path fill="#009b3c" d="M692,545 700,549 712,543 720,537 740,537 740,577 712,573 700,569 688,563 680,557 672,553 668,545 680,549 688,547Z"/>
<path fill="#009bd7" d="M700,555 704,549 714,553 720,565 716,571 708,569 702,563Z"/>
<path fill="#0090ff" d="M703,555 708,552 714,557 717,565 710,567 705,562Z"/>
<path fill="#5aff78" d="M560,577 580,583 600,583 612,573 628,569 640,569 648,555 660,549 668,553 680,561 700,573 720,581 740,581 740,600 560,600Z"/>
<path fill="#c8ff50" d="M616,577 630,573 644,569 652,561 664,557 672,561 680,569 700,579 720,585 740,585 740,600 612,600 608,589Z"/>
<path fill="#ffff00" d="M620,583 636,575 648,569 654,565 664,563 672,567 680,575 696,583 712,589 740,589 740,600 620,600Z"/>
<path fill="#d2c878" d="M612,597 626,587 640,583 648,585 654,577 658,569 668,569 676,577 680,589 684,600 610,600Z"/>
<path fill="#c8c8f0" d="M626,600 636,589 648,587 656,583 660,571 666,570 670,577 672,589 674,600Z"/>
<path fill="#f5f5f5" d="M632,600 640,591 654,587 664,585 668,591 669,600Z"/>
<path fill="#c8c8f0" d="M692,591 704,587 740,589 740,600 696,600Z"/>
<path fill="#f5f5f5" d="M696,594 708,590 740,592 740,600 700,600Z"/>
<path fill="#009bd7" d="M570,577 576,576 584,579 590,578 600,575 610,572 614,577 610,585 604,591 598,585 590,583 580,583Z"/>
<path fill="#c8ff50" d="M560,585 572,585 584,587 596,591 600,600 560,600Z"/>
<path fill="#ffff00" d="M560,589 570,588 580,591 584,600 560,600Z"/>
<path fill="#d2c878" d="M564,595 572,594 576,600 564,600Z"/>
<path fill="#c8c8f0" d="M586,591 594,589 596,595 590,599Z"/>
<path fill="#0090ff" d="M385,600 560,600 560,775 385,775Z"/>
<path fill="#009bd7" d="M489,636 509,624 537,620 545,640 545,668 537,684 529,698 513,694 497,688 489,682 493,666 485,660 481,649Z"/>
<path fill="#0090ff" d="M505,646 517,642 525,650 521,660 509,660Z"/>
<path fill="#3c14f0" d="M389,600 401,600 405,616 407,630 409,650 410,668 405,670 403,650 401,636 397,624 393,612Z"/>
<path fill="url(#m12)" d="M389,600 401,600 405,616 407,630 409,650 410,668 405,670 403,650 401,636 397,624 393,612Z"/>
<path fill="#aa0a9e" d="M385,600 391,600 393,612 397,624 401,636 403,650 405,664 401,668 395,662 391,656 389,646 385,647Z"/>
<path fill="url(#m14)" d="M385,600 391,600 393,612 397,624 401,636 403,650 405,664 401,668 395,662 391,656 389,646 385,647Z"/>
<path fill="#be00be" d="M385,604 389,606 391,618 389,622 385,620Z"/>
<path fill="#be00be" d="M391,628 397,626 401,640 399,648 394,644Z"/>
<path fill="#0a50f0" d="M397,600 425,600 423,610 409,616 403,612Z"/>
<path fill="url(#m10)" d="M397,600 425,600 423,610 409,616 403,612Z"/>
<path fill="#009b3c" d="M409,626 421,618 433,620 439,626 435,634 430,643 431.4,652 436,660 435,664 441,668 449,673 454,678 455,683 449,692 444,695 440,700 442,706 445,712 437,696 431,688 425,683 415,680 417,670 425,662 421,652 411,646 407,636Z"/>
<path fill="#0ad214" d="M421,636 430,643 431.4,652 436,660 433,666 425,660 419,650 415,640Z"/>
<path fill="#0ad214" d="M425,676 435,672 449,673 454,678 455,683 449,688 439,684 429,684Z"/>
<path fill="#0ad214" d="M425,684 437,686 443,694 440,700 442,706 445,712 441,708 435,698 427,690Z"/>
<path fill="#5aff78" d="M431,676 441,674 447,678 443,682 433,681Z"/>
<path fill="#5aff78" d="M423,638 431,630 439,626 442,632 439,640 433,645 426,643Z"/>
<path fill="#c8ff50" d="M428,637 435,630 440,630 439,638 434,643Z"/>
<path fill="#ffff00" d="M433,632 438,627 441,630 438,637 434,637Z"/>
<path fill="#0a50f0" d="M405,654 415,656 421,666 417,676 409,674 405,666Z"/>
<path fill="url(#m10)" d="M405,654 415,656 421,666 417,676 409,674 405,666Z"/>
<path fill="#0a50f0" d="M417,690 425,688 429,696 427,706 421,700Z"/>
<path fill="url(#m10)" d="M417,690 425,688 429,696 427,706 421,700Z"/>
<path fill="#0a50f0" d="M435,600 451,600 447,606 439,605Z"/>
<path fill="url(#m10)" d="M435,600 451,600 447,606 439,605Z"/>
<path fill="#0a50f0" d="M473,606 481,604 483,612 477,614Z"/>
<path fill="#009b3c" d="M489,640 497,636 503,642 505,652 503,664 497,670 493,680 489,682 491,677 485,674 489,666 485,660 483,654 481,649 487,646Z"/>
<path fill="#0ad214" d="M491,642 497,639 502,646 499,654 493,652Z"/>
<path fill="#009b3c" d="M509,626 521,622 533,624 539,630 533,636 523,640 513,642 507,634Z"/>
<path fill="#0ad214" d="M513,636 519,633 523,638 518,643 513,641Z"/>
<path fill="#0a50f0" d="M509,684 517,680 525,682 529,690 525,698 517,694 513,694Z"/>
<path fill="#0000f5" d="M515,684 522,682 526,688 523,695 517,692Z"/>
<path fill="url(#m11)" d="M515,684 522,682 526,688 523,695 517,692Z"/>
<path fill="#009b3c" d="M517,664 525,658 533,660 537,668 533,678 525,680 519,674Z"/>
<path fill="#0ad214" d="M520,666 525,661 530,664 529,672 523,674Z"/>
<path fill="#009b3c" d="M537,600 560,600 560,630 549,632 543,624 539,612Z"/>
<path fill="#0ad214" d="M541,604 551,600 560,600 560,626 551,628 545,620Z"/>
<path fill="#0090ff" d="M555,600 560,600 560,606 555,605Z"/>
<path fill="#009b3c" d="M525,680 533,678 541,672 545,678 537,684 535,694 529,698 527,690Z"/>
<path fill="#5aff78" d="M545,636 551,632 560,630 560,680 553,682 547,678 545,668 549,660 545,650Z"/>
<path fill="#ffff00" d="M548,638 553,634 560,632 560,666 554,668 551,676 548,670 552,660 549,650Z"/>
<path fill="#d2c878" d="M555,654 560,652 560,666 555,664Z"/>
<path fill="#f5f5f5" d="M551,677 557,676 560,678 560,682 553,682Z"/>
<path fill="#aa0a9e" d="M528,600 535,600 534,603 530,603.6Z"/>
<path fill="url(#m14)" d="M528,600 535,600 534,603 530,603.6Z"/>
<path fill="#f5f5f5" d="M550,600 740,600 740,775 550,775Z"/>
<path fill="#c8c8f0" d="M550,600 614,600 610,612 602,624 600,636 606,646 608,654 600,658 592,656 580,660 574,670 568,676 558,678 550,676Z"/>
<path fill="#c8c8f0" d="M616,600 634,600 637,610 634,620 627,621 624,612Z"/>
<path fill="#d2c878" d="M550,600 612,600 606,614 600,624 598,636 602,640 590,638 578,636 568,644 568,654 574,662 570,674 558,676 550,674Z"/>
<path fill="#d2c878" d="M627,610 632,609 633,618 628,619Z"/>
<path fill="#c8c8f0" d="M568,644 578,637 590,638 597,650 593,658 580,660 574,664Z"/>
<path fill="#f5f5f5" d="M574,646 582,641 590,642 593,652 586,658 578,658Z"/>
<path fill="#ffff00" d="M550,600 610,600 604,610 596,620 588,618 582,622 574,630 566,640 560,650 558,660 550,664Z"/>
<path fill="#d2c878" d="M568,600 584,600 588,608 584,614 574,612Z"/>
<path fill="#5aff78" d="M550,600 567,600 568,612 564,624 556,630 550,632Z"/>
<path fill="#0ad214" d="M550,600 565,600 566,612 562,622 554,628 550,630Z"/>
<path fill="#009b3c" d="M550,600 564,600 564,608 558,612 550,612Z"/>
<path fill="#009bd7" d="M550,600 561,600 561,606 554,608 550,608Z"/>
<path fill="#5aff78" d="M550,660 554,662 556,668 550,672Z"/>
<path fill="#ffff00" d="M591,646 595,640 602,643 608,650 607,656 600,658 594,654Z"/>
<path fill="#c8ff50" d="M595,646 600,645 605,650 603,656 598,655Z"/>
<path fill="#c8c8f0" d="M670,600 699,600 699,610 690,617 680,614 673,608Z"/>
<path fill="#ffff00" d="M673,600 697,600 696,608 688,613 680,610 675,605Z"/>
<path fill="#c8c8f0" d="M614,734 620,728 630,727 637,738 636,752 628,760 620,758 614,748Z"/>
<path fill="#d2c878" d="M612,748 616,747 617,756 613,757Z"/>
<path fill="#ffff00" d="M615,736 620,731 629,732 634,740 632,752 626,756 619,752Z"/>
<path fill="#c8ff50" d="M617,738 622,734 629,736 631,744 628,751 621,750Z"/>
<path fill="#5aff78" d="M618.4,740 623,737 627,740 627,746 622,748Z"/>
<path fill="#009b3c" d="M620,740 624,739 625.6,743 622,745Z"/>
<path fill="#202020" d="M568,771 572,769 578,772 576,775 569,775Z"/>
<path fill="#d2c878" d="M556,773 564,771 566,775 556,775Z"/>
<path fill="#d2c878" d="M109,730 235,730 235,865 75.4,865 77.8,833.2 89.8,826 104.2,818.8 109,802 109,782.8 116.2,763.6Z"/>
<path fill="#ffff00" d="M10,762.4 34.6,756.4 49,750.4 63.4,744.4 69.4,734.8 71.8,730 125.8,730 121,744.4 116.2,763.6 109,782.8 109,802 104.2,818.8 89.8,826 77.8,833.2 75.4,865 10,865Z"/>
<path fill="#c8ff50" d="M32.2,761.2 49,751.6 63.4,746.8 69.4,737.2 97,739.6 113.8,754 115,763.6 106.6,778 106.6,799.6 97,816.4 82.6,826 73,830.8 70.6,865 41.8,865 39.4,826 34.6,802 27.4,778Z"/>
<path fill="#d2c878" d="M10,778 34.6,773.2 44.2,772 49,778 41.8,792.4 37,806.8 34.6,826 33.4,865 10,865Z"/>
<path fill="#ffff00" d="M35.8,809.2 41.8,802 45.4,809.2 43,865 34.6,865Z"/>
<path fill="#5aff78" d="M49,754 63.4,749.2 69.4,739.6 94.6,739.6 109,751.6 112.6,763.6 104.2,775.6 103,799.6 94.6,814 80.2,823.6 73,829.6 68.2,818.8 61,797.2 56.2,778 51.4,766Z"/>
<path fill="#0ad214" d="M69.4,742 94.6,740.8 107.8,754 109,763.6 97,768.4 82.6,768.4 70.6,770.8Z"/>
<path fill="#0ad214" d="M69.4,785.2 85,779.2 101.8,778 100.6,799.6 93.4,811.6 80.2,818.8 74.2,823.6 70.6,809.2Z"/>
<path fill="#009b3c" d="M71.8,756.4 77.8,750.4 83.8,758.8 80.2,762.4 74.2,763.6Z"/>
<path fill="#c8ff50" d="M81.4,773.2 89.8,770.8 93.4,774.4 87.4,778 82.6,777.5Z"/>
<path fill="#0090ff" d="M71.8,730 92.2,730 93.4,737.2 87.4,742 77.8,740.8 73,736Z"/>
<path fill="url(#m9)" d="M71.8,730 92.2,730 93.4,737.2 87.4,742 77.8,740.8 73,736Z"/>
<path fill="#ffff00" d="M135.4,734.8 149.8,732.4 169,734.8 178.6,730 235,730 235,744.4 226.6,739.6 217,737.2 207.4,740.8 193,739.6 178.6,742 169,751.6 164.2,744.4 149.8,739.6 140.2,739.6Z"/>
<path fill="#0ad214" d="M181,730 197.8,730 195.4,739.6 185.8,738.4Z"/>
<path fill="#009bd7" d="M187,730 193,730 191.8,736 188.2,736Z"/>
<path fill="#0ad214" d="M229,730 235,730 235,744.4 229,739.6Z"/>
<path fill="#c8c8f0" d="M111.4,770.8 125.8,766 137.8,758.8 149.8,760 159.4,766 163,790 159.4,806.8 152.2,814 142.6,814 135.4,804.4 130.6,794.8 111.4,788.8 110.2,778Z"/>
<path fill="#c8c8f0" d="M171.4,766 178.6,746.8 190.6,743.2 200.2,746.8 207.4,761.2 209.8,773.2 224.2,778 233.8,790 231.4,797.2 217,794.8 209.8,787.6 212.2,778 202.6,770.8 190.6,776.8 178.6,775.6Z"/>
<path fill="#c8c8f0" d="M164.2,797.2 173.8,806.8 190.6,806.8 195.4,802 190.6,811.6 178.6,812.8 169,808Z"/>
<path fill="#f5f5f5" d="M197.8,744.4 207.4,740.8 217,746.8 226.6,755.2 235,760 235,865 77.8,865 80.2,833.2 92.2,826 106.6,818.8 109,802 111.4,790 130.6,796 135.4,805.6 142.6,815.2 152.2,815.2 159.4,808 164.2,798.4 169,809.2 178.6,814 190.6,812.8 195.9,803.2 201.4,795.3 209.8,788.8 217,796 231.4,798.4 234.3,790 224.7,777.5 210.3,772.7 207.9,760.7 203.1,749.2Z"/>
<path fill="#ffff00" d="M167.8,800.8 173.8,792.4 188.2,782.8 197.8,781.6 197.8,787.6 190.6,794.8 178.6,799.6 171.4,803.2Z"/>
<path fill="#f5f5f5" d="M177.4,766 183.4,762.4 190.6,768.4 189.4,775.6 182.2,773.2Z"/>
<path fill="#f5f5f5" d="M143.1,767.2 147.4,766 148.6,770.3 144.5,770.8Z"/>
<path fill="#d2c878" d="M235,770 480,770 480,865 235,865Z"/>
<path fill="#c8c8f0" d="M235,770 251.8,770 253.2,786.8 258.8,800.8 256,826 261.6,842.8 270,865 235,865Z"/>
<path fill="#f5f5f5" d="M235,770 247.6,770 249,786.8 254.6,800.8 251.8,826 257.4,842.8 265.8,865 235,865Z"/>
<path fill="#ffff00" d="M254.6,770 281.2,770 284,777 291,781.2 299.4,788.2 300.8,800.8 319,795.2 324.6,806.4 341.4,817.6 361,817.6 358.2,826 341.4,830.2 321.8,834.4 319,865 251.8,865 254.6,826 260.2,806.4 254.6,789.6Z"/>
<path fill="#c8c8f0" d="M265.8,795.2 282.6,792.4 288.2,798 277,805 265.8,803.6Z"/>
<path fill="#f5f5f5" d="M270,798 279.8,795.8 279.8,800.2 271.4,801.4Z"/>
<path fill="#c8c8f0" d="M300.8,789.6 309.2,793.8 313.4,806.4 306.4,812 300.8,803.6Z"/>
<path fill="#0ad214" d="M282.6,781.2 289.6,779.8 291,786.8 284.8,787.4Z"/>
<path fill="#c8ff50" d="M256,817.6 265.8,806.4 282.6,803.6 296.6,802.2 307.8,812 316.2,826 319,865 263,865 256,834.4Z"/>
<path fill="#0ad214" d="M258.8,820.4 268.6,809.2 285.4,805 298,805 306.4,814.8 313.4,828.8 314.8,865 268.6,865 260.2,834.4Z"/>
<path fill="#009bd7" d="M263,821.8 272.8,812 288.2,806.4 298,807.8 305,816.2 310.6,831.6 310.6,865 272.8,865 264.4,834.4Z"/>
<path fill="#0a50f0" d="M272.8,819 281.2,810.6 293.8,807.8 302.2,816.2 307.8,831.6 306.4,865 279.8,865 274.2,834.4Z"/>
<path fill="url(#m10)" d="M272.8,819 281.2,810.6 293.8,807.8 302.2,816.2 307.8,831.6 306.4,865 279.8,865 274.2,834.4Z"/>
<path fill="#3c14f0" d="M277,820.4 284,812 293.8,809.8 300.8,817.6 305,833 302.2,865 286.8,865 278.4,835.8Z"/>
<path fill="url(#m12)" d="M277,820.4 284,812 293.8,809.8 300.8,817.6 305,833 302.2,865 286.8,865 278.4,835.8Z"/>
<path fill="#be00be" d="M279.8,820.4 286.8,812 293.8,810.6 299.4,819 303.6,834.4 300.8,845.6 291,842.8 282.6,833Z"/>
<path fill="#ff00ff" d="M282.6,820.4 288.2,813.4 293.8,813.4 298,821.8 299.4,833 295.2,835.8 288.2,831.6Z"/>
<path fill="#c8ff50" d="M319,795.2 335.8,796.6 349.8,799.4 354,809.2 352.6,817.6 341.4,817.6 330.2,812 320.4,806.4Z"/>
<path fill="#5aff78" d="M320.4,793.8 335.8,796.6 349.8,799.4 352.6,809.2 344.2,814.8 333,809.2 321.8,805Z"/>
<path fill="#0ad214" d="M321.8,793.8 333,795.2 341.4,800.8 338.6,806.4 327.4,805Z"/>
<path fill="#009bd7" d="M330.2,796.6 335.8,795.8 338,801.4 331.6,802.2Z"/>
<path fill="#ffff00" d="M403,831.6 411.4,826 414.2,814.8 417,791 436.6,778.4 453.4,781.2 456.2,786.8 467.4,788.2 480,786.8 480,800.8 464.6,803.6 456.2,812 447.8,823.2 431,830.2 414.2,837.2 403,840Z"/>
<path fill="#5aff78" d="M411.4,826 414.2,814.8 412.8,800.8 417,791 425.4,784 436.6,778.4 447.8,778.4 453.4,781.2 456.2,792.4 453.4,806.4 447.8,817.6 431,824.6 417,828.8Z"/>
<path fill="#0ad214" d="M412.8,823.2 414.2,803.6 417,791 428.2,782.6 447.8,778.4 453.4,782.6 452,798 447.8,812 431,820.4 417,824.6Z"/>
<path fill="#009bd7" d="M417,817.6 418.4,795.2 428.2,784 447.8,779 452,784 449.2,800.8 442.2,812 428.2,817.6Z"/>
<path fill="#0090ff" d="M419.8,812 421.2,795.2 431,784 446.4,779.8 450,786.8 446.4,800.8 436.6,810.6 428.2,814.8Z"/>
<path fill="url(#m9)" d="M419.8,812 421.2,795.2 431,784 446.4,779.8 450,786.8 446.4,800.8 436.6,810.6 428.2,814.8Z"/>
<path fill="#0a50f0" d="M422.6,792.4 431,784 443.6,781.2 442.2,795.2 433.8,800.8 425.4,799.4Z"/>
<path fill="url(#m10)" d="M422.6,792.4 431,784 443.6,781.2 442.2,795.2 433.8,800.8 425.4,799.4Z"/>
<path fill="#0ad214" d="M414.2,796.6 418.4,795.2 419.8,803.6 415.6,805Z"/>
<path fill="#c8c8f0" d="M335.8,865 338.6,841.4 347,838.6 358.2,841.4 375,865Z"/>
<path fill="#c8c8f0" d="M391.8,865 397.4,840 408.6,838.6 414.2,845.6 414.2,865Z"/>
<path fill="#c8c8f0" d="M428.2,865 431,834.4 442.2,826 450.6,823.2 450.6,840 447.8,865Z"/>
<path fill="#f5f5f5" d="M340,865 342.8,842.8 347,842.2 348.4,865Z"/>
<path fill="#f5f5f5" d="M431,865 433.2,840 437.2,840 438,865Z"/>
<path fill="#ffff00" d="M327.4,865 328.8,844.2 334.4,843.4 335.8,865Z"/>
<path fill="#f5f5f5" d="M480,770 740,770 740,865 480,865Z"/>
<path fill="#c8c8f0" d="M480,789.6 536,792.4 552.8,775.6 564,771.4 569.6,775.6 566.8,792.4 561.2,812 544.4,817.6 524.8,826 510.8,838.6 502.4,835.8 496.8,826 488.4,826 485.6,837.2 487,865 480,865Z"/>
<path fill="#d2c878" d="M480,789.6 536,792.4 552.8,775.6 564,772.8 565.4,786.8 558.4,809.2 541.6,813.4 522,823.2 509.4,833 502.4,830.2 496.8,821.8 485.6,821.8 482.8,831.6 480,834.4Z"/>
<path fill="#ffff00" d="M480,789.6 536,792.4 548.6,779.8 557,777 555.6,795.2 550,809.2 536,812 519.2,820.4 508,820.4 494,814.8 480,812Z"/>
<path fill="#c8ff50" d="M480,791 519.2,792.4 519.2,806.4 510.8,812 496.8,806.4 480,800.8Z"/>
<path fill="#0ad214" d="M480,786.8 482.8,789.6 482.2,795.2 480,795.8Z"/>
<path fill="#181818" d="M569,770 578,770 578.6,774.2 573.8,777 569.6,774.2Z"/>
<path fill="#c8c8f0" d="M175.4,744.9 196,741.4 209.7,739.1 221.1,748.3 230.3,755.1 241.7,762 246.3,764.3 246.3,790.1 168.6,790.1 170.9,765.4Z"/>
<path fill="#f5f5f5" d="M196,743.7 209.7,740.3 218.9,749.4 228,756.3 241.7,763.1 260,763.1 269.1,765.4 260,772.3 246.3,774.6 246.3,790.1 228,790.1 223.4,776.9 214.3,765.4 202.9,756.3Z"/>
<path fill="#d2c878" d="M188,754 193.7,751.7 198.3,758.6 196,765.4 190.3,764.3Z"/>
<path fill="#f5f5f5" d="M177.7,765.4 184.6,763.1 188,770 184.6,775.7 178.9,773.4Z"/>
<path fill="#ffff00" d="M152.6,728.9 168.6,722 191.4,718.6 218.9,720.9 237.1,718.6 260,719.7 260,760.9 246.3,763.1 228,754 214.3,742.6 198.3,739.1 180,740.3 168.6,754 161.7,742.6 152.6,735.7Z"/>
<path fill="#0ad214" d="M164,723.1 191.4,718.6 202.9,718.6 218.9,722 237.1,718.6 257.7,720.9 257.7,733.4 248.6,728.9 237.1,735.7 232.6,747.1 228,742.6 226.9,733.4 218.9,728.9 207.4,731.1 198.3,724.3 193.7,738 184.6,735.7 177.7,728.9 168.6,728.9Z"/>
<path fill="#009b3c" d="M182.3,722 196,719.7 194.9,735.7 188,736.9 183.4,731.1Z"/>
<path fill="#009bd7" d="M186.9,724.3 192.6,723.1 192.6,733.4 188,733.4Z"/>
<path fill="#0090ff" d="M200.6,718.6 218.9,722 237.1,718.6 260,719.7 260,726.6 246.3,726.6 230.3,731.1 218.9,730 209.7,726.6Z"/>
<path fill="url(#m9)" d="M200.6,718.6 218.9,722 237.1,718.6 260,719.7 260,726.6 246.3,726.6 230.3,731.1 218.9,730 209.7,726.6Z"/>
<path fill="#0a50f0" d="M209.7,720.9 218.9,722 223.4,724.3 216.6,726.6 212,724.3Z"/>
<path fill="url(#m10)" d="M209.7,720.9 218.9,722 223.4,724.3 216.6,726.6 212,724.3Z"/>
<path fill="#5aff78" d="M237.1,735.7 248.6,728.9 257.7,733.4 257.7,749.4 248.6,756.3 237.1,749.4Z"/>
<path fill="#ffff00" d="M239.4,744.9 246.3,740.3 248.6,754 241.7,754Z"/>
<path fill="#0000f5" d="M205,594 237,594 237,612 225,606 212,604 205,600Z"/>
<path fill="url(#m11)" d="M205,594 237,594 237,612 225,606 212,604 205,600Z"/>
<path fill="#961ed2" d="M222,594 237,594 237,610 228,606Z"/>
<path fill="url(#m13)" d="M222,594 237,594 237,610 228,606Z"/>
<path fill="#0ad214" d="M203,590 212,587 222,590 226,598 214,602 205,598Z"/>
<path fill="#0a50f0" d="M375,250 411,250 411,283 395,290 375,296Z"/>
<path fill="url(#m10)" d="M375,250 411,250 411,283 395,290 375,296Z"/>
<path fill="#0090ff" d="M383,262 398,258 403,272 390,280Z"/>
<path fill="url(#m9)" d="M383,262 398,258 403,272 390,280Z"/>
<path fill="#be00be" d="M250,333 270,333 268,340 258,341 251,337Z"/>
<path fill="none" stroke="#0a3cc8" stroke-width="16" stroke-opacity="0.55" stroke-linejoin="round" d="M252,334 243,326 240,314 241,296 239,278 243,264 250,256 262,248 266,240 276,230 288,220 284,214 291,202 293,190 298,180 294,168 296,160"/>
<path fill="none" stroke="#00062e" stroke-width="9.6" stroke-opacity="0.6" stroke-linejoin="round" stroke-dasharray="2.5 1.5" d="M252,334 243,326 240,314 241,296 239,278 243,264 250,256 262,248 266,240 276,230 288,220 284,214 291,202 293,190 298,180 294,168 296,160"/>
<path fill="none" stroke="#0a3cc8" stroke-width="20" stroke-opacity="0.55" stroke-linejoin="round" d="M258,250 266,239 276,231 284,217 289,207 293,193 294,183 300,173 304,163 298,161 306,145 316,135 320,127 328,117 340,111 344,103 356,94 366,92 375,91"/>
<path fill="none" stroke="#00062e" stroke-width="12.0" stroke-opacity="0.6" stroke-linejoin="round" stroke-dasharray="2.5 1.5" d="M258,250 266,239 276,231 284,217 289,207 293,193 294,183 300,173 304,163 298,161 306,145 316,135 320,127 328,117 340,111 344,103 356,94 366,92 375,91"/>
<path fill="none" stroke="#0a3cc8" stroke-width="12" stroke-opacity="0.55" stroke-linejoin="round" d="M375,92 383,94 389,97 387,103 395,105 403,107"/>
<path fill="none" stroke="#00062e" stroke-width="7.199999999999999" stroke-opacity="0.6" stroke-linejoin="round" stroke-dasharray="2.5 1.5" d="M375,92 383,94 389,97 387,103 395,105 403,107"/>
<path fill="none" stroke="#0a3cc8" stroke-width="10" stroke-opacity="0.55" stroke-linejoin="round" d="M323,574 329,580 335,588 341,592 347,598 355,602 365,608 375,614 383,619"/>
<path fill="none" stroke="#00062e" stroke-width="6.0" stroke-opacity="0.6" stroke-linejoin="round" stroke-dasharray="2.5 1.5" d="M323,574 329,580 335,588 341,592 347,598 355,602 365,608 375,614 383,619"/>
<path fill="none" stroke="#0a3cc8" stroke-width="8" stroke-opacity="0.55" stroke-linejoin="round" d="M344,292 350,298 350,306 346,314 338,324"/>
<path fill="none" stroke="#00062e" stroke-width="4.8" stroke-opacity="0.6" stroke-linejoin="round" stroke-dasharray="2.5 1.5" d="M344,292 350,298 350,306 346,314 338,324"/>
<path fill="none" stroke="#0a3cc8" stroke-width="8" stroke-opacity="0.55" stroke-linejoin="round" d="M380,290 394,287 404,280 414,274 421,270"/>
<path fill="none" stroke="#00062e" stroke-width="4.8" stroke-opacity="0.6" stroke-linejoin="round" stroke-dasharray="2.5 1.5" d="M380,290 394,287 404,280 414,274 421,270"/>
<path fill="none" stroke="#0a3cc8" stroke-width="8" stroke-opacity="0.55" stroke-linejoin="round" d="M431.4,652 436,660 435,664 441,668 449,673 454,678 455,683 449,692 444,695 440,700 442,706"/>
<path fill="none" stroke="#00062e" stroke-width="4.8" stroke-opacity="0.6" stroke-linejoin="round" stroke-dasharray="2.5 1.5" d="M431.4,652 436,660 435,664 441,668 449,673 454,678 455,683 449,692 444,695 440,700 442,706"/>
<path fill="none" stroke="#0a3cc8" stroke-width="8" stroke-opacity="0.55" stroke-linejoin="round" d="M473,644 475,650 481,649 483,654 479,658 479,662 485,660 489,666 483,670 485,674 491,677 489,682 485,686 493,688 503,689 509,688 507,694"/>
<path fill="none" stroke="#00062e" stroke-width="4.8" stroke-opacity="0.6" stroke-linejoin="round" stroke-dasharray="2.5 1.5" d="M473,644 475,650 481,649 483,654 479,658 479,662 485,660 489,666 483,670 485,674 491,677 489,682 485,686 493,688 503,689 509,688 507,694"/>
<path fill="none" stroke="#0a3cc8" stroke-width="7" stroke-opacity="0.55" stroke-linejoin="round" d="M411,680 408,686 411,690 417,694 419,700 424,706 427,711 431,708 435,713 440,712 443,716"/>
<path fill="none" stroke="#00062e" stroke-width="4.2" stroke-opacity="0.6" stroke-linejoin="round" stroke-dasharray="2.5 1.5" d="M411,680 408,686 411,690 417,694 419,700 424,706 427,711 431,708 435,713 440,712 443,716"/>
<path fill="none" stroke="#0a3cc8" stroke-width="7" stroke-opacity="0.55" stroke-linejoin="round" d="M436,643 439,647 445,648 447,643 442,639 443,635"/>
<path fill="none" stroke="#00062e" stroke-width="4.2" stroke-opacity="0.6" stroke-linejoin="round" stroke-dasharray="2.5 1.5" d="M436,643 439,647 445,648 447,643 442,639 443,635"/>
<path fill="#0ad214" d="M538.6,594 551.4,581.1 564.3,578.6 566.9,591.4 564.3,609.4 561.7,622.3 551.4,630 543.7,637.7 536,627.4 536,609.4Z"/>
<path fill="#009bd7" d="M547.6,600.4 555.3,597.9 560.4,603 555.3,608.1 548.9,606.9Z"/>
<path fill="#009bd7" d="M130,607.1 150,605.7 170,618.6 190,622.9 201.4,618.6 201.4,637.1 90,718.6 90,690 104.3,661.4 125.7,644.3Z"/>
<path fill="#0090ff" d="M170,611.4 190,617.1 200,615.7 200,624.3 190,632.9 181.4,627.1 172.9,622.9Z"/>
<path fill="url(#m9)" d="M170,611.4 190,617.1 200,615.7 200,624.3 190,632.9 181.4,627.1 172.9,622.9Z"/>
<path fill="#0ad214" d="M134.3,608.6 147.1,607.1 152.9,614.3 164.3,618.6 170,622.9 178.6,622.9 187.1,625.7 190,632.9 181.4,637.1 172.9,640 167.1,647.1 160,654.3 155.7,662.9 157.1,671.4 160,678.6 151.4,687.1 147.1,694.3 137.1,702.9 127.1,710 118.6,708.6 104.3,704.3 90,700 90,690 98.6,681.4 105.7,670 107.1,654.3 112.9,647.1 127.1,644.3 137.1,638.6 134.3,627.1 135.7,618.6Z"/>
<path fill="#009b3c" d="M137.1,618.6 144.3,615.7 150,622.9 147.1,631.4 140,632.9 135.7,627.1Z"/>
<path fill="#009b3c" d="M118.6,664.3 127.1,661.4 137.1,665.7 140,674.3 132.9,678.6 122.9,675.7Z"/>
<path fill="#009b3c" d="M101.4,690 111.4,687.1 118.6,692.9 115.7,702.9 105.7,704.3 100,698.6Z"/>
<path fill="#5aff78" d="M152.9,627.1 164.3,622.9 175.7,624.3 184.3,627.1 181.4,635.7 172.9,640 167.1,647.1 160,654.3 155.7,664.3 152.9,675.7 144.3,684.3 132.9,690 125.7,698.6 118.6,704.3 117.1,695.7 122.9,687.1 132.9,681.4 140,675.7 138.6,664.3 132.9,657.1 121.4,661.4 110,660 107.1,654.3 115.7,651.4 127.1,652.9 138.6,650 142.9,641.4 150,635.7Z"/>
<path fill="#c8ff50" d="M108.6,655 118.6,654.3 122.9,658.6 118.6,662.9 111.4,661.4Z"/>
<path fill="#c8ff50" d="M140,652.9 150,644.3 157.1,632.9 164.3,627.1 170,628.6 170,637.1 167.1,647.1 160,654.3 155.7,664.3 154.3,675.7 147.1,684.3 137.1,690 130,698.6 122.9,707.1 118.6,704.3 121.4,695.7 131.4,687.1 140,681.4 144.3,672.9 140,664.3Z"/>
<path fill="#ffff00" d="M141.4,647.1 150,640 154.3,631.4 158.6,627.1 164.3,627.1 167.1,632.9 164.3,638.6 170,641.4 167.1,647.1 160,654.3 155.7,664.3 157.1,671.4 160,678.6 151.4,687.1 147.1,694.3 137.1,702.9 127.1,710 120,708.6 122.9,701.4 131.4,692.9 140,687.1 150,678.6 151.4,670 147.1,664.3 140,660Z"/>
<path fill="#5aff78" d="M147.1,645.7 152.9,644.3 154.3,650 150,652.9Z"/>
<path fill="#5aff78" d="M147.1,661.4 151.4,660 152.1,667.1 148.6,667.9Z"/>
<path fill="#ffff00" d="M180,627.1 184.3,626.4 185,631.4 181.4,632.9Z"/>
<path fill="#d2c878" d="M131.4,695.7 138.6,690 147.1,684.3 151.4,681.4 152.9,687.1 147.1,694.3 137.1,702.9 131.4,701.4Z"/>
<path fill="#c8c8f0" d="M135.7,695.7 142.9,690 150,685.7 148.6,692.9 140,698.6Z"/>
<path fill="#f5f5f5" d="M123.6,705.7 127.9,704.3 129.3,708.6 125.7,710Z"/>
<path fill="#d2c878" d="M157.1,655.7 160,654.3 160.7,658.6 157.9,660Z"/>
<path fill="#009b3c" d="M92.9,667.1 100,664.3 104.3,670 98.6,675.7 92.9,674.3Z"/>
<path fill="none" stroke="#009bd7" stroke-width="5" stroke-opacity="1" stroke-linejoin="round" d="M498,425 494,445 488,465 490,485 488,501 490,513 486,529 476,537 470,545 460,553 462,563 470,569 476,581 474,600"/>
<path fill="none" stroke="#009b3c" stroke-width="4" stroke-opacity="1" stroke-linejoin="round" d="M500.4,425 496.4,445 490.4,465 492.4,485 490.4,501 492.4,513 488.4,529 478.4,537 472.4,545 462.4,553 464.4,563 472.4,569 478.4,581 476.4,600"/>
<path fill="#aa0a9e" d="M153,564 160,556 166,564 170,576 172,590 176,602 170,608 160,602 150,592 148,588 153,578Z"/>
<path fill="url(#m14)" d="M153,564 160,556 166,564 170,576 172,590 176,602 170,608 160,602 150,592 148,588 153,578Z"/>
<path fill="#be00be" d="M154,576 162,570 168,582 170,594 166,602 158,598 151,590Z"/>
<path fill="#0a50f0" d="M206,578 222,574 238,578 242,590 238,602 222,600 210,594Z"/>
<path fill="url(#m10)" d="M206,578 222,574 238,578 242,590 238,602 222,600 210,594Z"/>
<path fill="#009bd7" d="M198,598 210,592 222,594 234,598 240,602 238,608 222,602 214,600 204,606 198,610Z"/>
<path fill="#0ad214" d="M196,604 204,598 214,595 222,598 230,600 232,604 222,602 214,600 204,608 198,611Z"/>
<path fill="#aa0a9e" d="M238,586 250,582 256,590 250,600 240,600Z"/>
<path fill="url(#m14)" d="M238,586 250,582 256,590 250,600 240,600Z"/>
<path fill="#0000f5" d="M235,570 246,566 258,570 262,578 254,584 242,585 235,582Z"/>
<path fill="url(#m11)" d="M235,570 246,566 258,570 262,578 254,584 242,585 235,582Z"/>
<path fill="#0a50f0" d="M242,572 250,570 254,576 248,580 242,578Z"/>
<path fill="url(#m10)" d="M242,572 250,570 254,576 248,580 242,578Z"/>
</g>
<g filter="url(#wob2)">
<g fill="none" stroke="#000" stroke-width="1.3" stroke-linejoin="round">
<path d="M199,55 376,55 376,91 366,92 356,94 344,103 340,111 328,117 320,127 316,135 306,145 298,161 304,163 300,173 294,183 293,193 289,207 284,217 276,231 266,239 258,251 199,251Z"/>
<path d="M360,189 370,187.6 378,190 380,200 377,210 373,220 369,230 363,236 360,244 362,256 365,270 364,284 380,290 394,287 404,280 414,274 421,270 422.4,276 430,277 436,279 428,282 422,287 420,293 412,294 402,296 394,300 388,303 350,303 350,298 344,292 336,286 333,270 335,256 340,246 348,234 355,228 357,216 354,206 355,196Z"/>
<path d="M438,170 452,170 458,176 464,182 466,188 460,192 452,189 444,186 442,178 437,174Z"/>
<path d="M199,160 296,160 294,168 298,180 293,190 291,202 284,214 288,220 276,230 266,240 262,248 250,256 243,264 239,278 241,296 240,314 243,326 252,334 258,336 199,336Z"/>
<path d="M374,55 500,55 499,83 495,93 497,101 495,109 489,113 481,109 481,101 484,94 479,90 473,90 463,95 471,99 475,113 479,117 485,125 483,133 471,135 469,143 467,155 471,161 477,169 471,173 461,172 455,173 457,179 463,182 466,187 463,192 455,191 445,188 441,183 437,173 433,165 423,159 412,150 416,150 425,152 435,154 445,154 457,151 464,145 466,133 463,123 457,118 449,115 435,111 417,107 407,111 403,107 395,105 387,103 389,97 383,94 374,92Z"/>
<path d="M59,279 234.4,279 234.4,360 236,421 230,432 224,446 218,456 59,456Z"/>
<path d="M59,419 236,419 236,423 230,432 226,442 220,450 216,456 208,460 200,463 196,472 192,477 184,481 180,484 176,488 169,486 167,480 161,479.6 161,488 162,497 154,496 148,492 140,492 130,494 126,497 129,504 136,508 142,514 148,518 152,522 150,530 154,538 158,544 159,554 160,564 156,572 154,582 150,590 148,592.4 140,590 130,586 120,583 110,580 100,578 86,574 80,570 72,574 64,578 62,586 65,596 59,596Z"/>
<path d="M234,334 250,334 253,338 259,340 265,338 268,334 292,334 293,343 297,353 302,363 304,371 305,379 307,386 315,385 318,383 317,377 320,374 329,372 333,368 335,359 336,347 337,334 378,334 376,341 374,351 375,361 377,371 379,380 375,387 373,392 365,399 360,399 356,393 351,392 343,395 335,401 329,407 323,411 321,415 316,411 313,405 310,401 307,404 302,405 295,409 293,412 288,412 290,405 286,403 281,398 278,392 280,385 282,378 285,371 282,363 283.4,353 284,344.6 278,349 270,354 265,359 264,371 263,383 265,393 266,405 267,415 263,417 255,418 245,420 235,422 234,422Z"/>
<path d="M335.2,279.2 363.2,279.2 366.4,284.8 374.4,287.2 384,289.6 392,284.8 400,280.8 403.2,279.2 425.6,279.2 422.4,287.2 417.6,292 411.2,292.8 403.2,295.2 395.2,299.2 390.4,304 387.2,308.8 381.6,311.2 376.8,314.4 379.2,318.4 377.6,324.8 379.2,329.6 384,328 387.2,323.2 390.4,318.4 392.8,322.4 396.8,320 397.6,328 399.2,336 398.4,342.4 394.4,344.8 390.4,342.4 387.2,337.6 384,334.4 379.2,337.6 375.2,344 373.6,352 374.4,360 376,369.6 377.6,379.2 376.8,384 372.8,390.4 368,395.2 364.8,399.2 360,399.2 356.8,395.2 352,393.6 344,396.8 336,401.6 328,406.4 320,411.2 319.2,411.2 319.2,374.4 324.8,372.8 331.2,372 333.6,360 335.2,348.8 334.4,337.6 336,326.4 340.8,320 347.2,310.4 350.4,300.8 347.2,292.8 337.6,286.4Z"/>
<path d="M409,275 418,273.6 422,278 435,277.6 435.6,280 428,282 422,285 420,293.6 410,294.4 409,290Z"/>
<path d="M680,426 684,414 692,404 700,394 708,389 712,392 715,402 718,410 745,412 745,426Z"/>
<path d="M234,611 235,611 241,608 247,602 255,596 261,590 267,587 273,589 279,592 283,598 285,606 288,612 293,618 299,624 305,632 311,638 317,642 323,644 329,650 335,654 339,660 345,664 349,670 352,678 355,686 234,686Z"/>
<path d="M305,570 307,566 314,562.4 321,562 323,565 320,568 323,574 329,580 335,588 341,592 347,598 355,602 365,608 375,614 383,619 389,624 391,634 389,646 393,658 401,666 407,672 411,676 411,686 363,686 365,680 367,674 363,668 359,662 363,654 369,653 375,658 379,663 382,658 379,652 373,648 363,644 353,638 346,634 351,632 352,628 347,627 337,628 329,622 324,616 321,606 315,598 308,590 306,580Z"/>
<path d="M234,639 312,639 315,642 323,645 327,650 335,655 343,660 349,666 352,678 355,684 353,690 350,696 351,700 355,699 360,692 363,686 367,680 366,672 363,668 359,662 363,654 369,653 375,658 379,663 382,658 379,652 373,648 363,644 359,639 389,639 390,648 393,658 401,666 407,672 409,680 407,688 411,690 411,816 355,816 353,808 349,800 339,796 331,793 323,792 315,794 307,792 299,788 295,784 291,780 287,778 282,772 281,768 287,762 293,754 294,744 290,740 286,736 287,730 293,722 293,718 288,722 284,724 283,718 278,714 271,716 263,720 253,722 245,719 235,717 234,717Z"/>
<path d="M5,558.8 157,558.8 155.8,569.6 154.6,579.2 149.8,591.2 145,592.4 133,590 121,586.4 109,582.8 97,579.2 87.4,574.4 77.8,570.1 68.2,573.2 62.2,576.8 63.4,588.8 64.6,600.8 61,612.8 56.2,624.8 51.4,636.8 46.6,646.4 45.4,656 49,663.2 47.8,672.8 45.4,684.8 49,684.8 57.4,688.4 64.6,687.2 70.6,690.8 75.4,699.2 79,708.8 83.8,713.6 76.6,717.2 73,725.6 68.2,735.2 63.4,744.8 49,749.6 37,754.4 5,759.2 5,759.2Z"/>
<path d="M83.8,713.6 89.8,711.2 97,706.4 106.6,705.2 116.2,706.4 125.8,708.8 130.6,704 140.2,699.2 147.4,694.4 154.6,684.8 160.6,678.8 155.8,672.8 157,663.2 161.8,656 169,646.4 173.8,640.4 183.4,636.8 193,632 202.6,622.4 201.4,615.2 202.6,605.6 209.8,600.8 217,599.6 226.6,602 236.2,604.4 236.2,717.2 226.6,720.8 217,723.2 207.4,718.4 197.8,719.6 190.6,718.4 178.6,723.2 166.6,724.4 154.6,728 145,731.6 137.8,732.8 128.2,738.8 121,737.6 113.8,732.8 104.2,731.6 94.6,730.4 89.8,725.6 86.2,717.2 76.6,717.2Z"/>
<path d="M498,513 504,508 510,505 512,510 518,511 524,512 530,511 528,517 524,523 528,525 534,527 537,537 543,535 548,529 550,521 558,517 566,511 570,513 578,515 586,519 586,578 580,579 574,574 568,577 564,573 554,579 546,583 540,589 534,595 530,601 484,601 481,597 482,589 485,581 487,573 487,565 486,555 489,549 493,543 494,533 495,525Z"/>
<path d="M546,503 550,495 554,489 562,481 570,471 576,465 581,464 580,469 576,477 577,487 574,499 570,507 562,509 554,513 548,509Z"/>
<path d="M559,515 560,515 568,511 572,513 580,515 590,517 600,521 610,525 618,527 626,531 632,537 636,543 637,549 634,557 630,563 624,567 616,569 610,572 600,575 590,578 584,579 576,576 570,577 564,573 560,574 559,574Z"/>
<path d="M559,483 564,479 570,473 576,468 580,464 581,467 578,472 575,479 574,485 576,491 573,501 568,507 564,510 560,509 559,509Z"/>
<path d="M680,424 707,424 706,433 712,437 715,438 708,441 703,443 704,447 712,449 718,453 722,459 745,461 745,510 716,506 706,501 698,495 690,489 684,481 680,473 672,467 670,459 672,451 669,445 672,437 678,431Z"/>
<path d="M487,599 489,604 497,609 509,609 521,606 527,602 528,599Z"/>
<path d="M481,630 487,624 493,619 501,617 507,618 503,623 497,626 489,629 484,632Z"/>
<path d="M415,685 425,682 435,682 443,684 435,685 425,685Z"/>
<path d="M384,647 389,646 391,656 395,662 401,668 405,670 410,674 411,680 408,686 411,690 417,694 419,700 424,706 427,711 431,708 435,713 440,712 443,716 445,712 442,706 440,700 444,695 449,692 454,688 455.4,683 454,678 449,673 441,668 435,664 436,660 431.4,652 429.4,645 431,640 436,643 439,647 445,648 447,643 442,639 443,635 449,631 455,630 461,629 469,630 473,633 479,630 481,632 475,638 473,644 475,650 481,649 483,654 479,658 473,656 471,659 479,662 485,660 489,666 483,670 476,671 475,674 485,674 491,677 489,682 483,680 485,686 493,688 497,686 503,689 509,688 507,694 501,696 497,700 505,698 513,694 517,692 523,698 529,698 535,694 537,684 545,680 553,682 561,688 561,776 384,776Z"/>
<path d="M549,681 556,685 564,687 572,682 578,674 586,668 596,664 599,659 601,666 600,674 603,680 606,690 609,698 608,708 607,720 606,730 605,740 605,752 602,762 596,766 588,770 580,772 572,770 562,772 554,775 549,776Z"/>
<path d="M281.2,768.6 284,777 291,781.2 299.4,788.2 310.6,792.4 321.8,791 335.8,796.6 349.8,799.4 354,809.2 361,817.6 375,819 386.2,823.2 397.4,828.8 404.4,831.6 411.4,826 414.2,814.8 412.8,800.8 417,791 425.4,784 436.6,778.4 447.8,778.4 453.4,781.2 456.2,786.8 467.4,788.2 481.4,786.8 481.4,768.6Z"/>
<path d="M478.6,768.6 569.6,768.6 564,771.4 552.8,775.6 544.4,785.4 536,792.4 519.2,791 508,789.6 491.2,791 480,789.6 478.6,786.8Z"/>
<path d="M618.6,816.2 625.6,813.4 632.6,820.4 642.4,830.2 650.8,840 662,847 663.4,870 620,870 617.2,840 611.6,828.8 615.8,823.2Z"/>
<path d="M578.6,781.2 583.6,792.4 592,806.4 603.2,820.4 614.4,826 611.6,820.4 600.4,809.2 589.2,795.2 582.8,785.4Z"/>
<path d="M5,55 205,55 205,290 63,290 63,570 5,570Z"/>
<path d="M257.8,340.7 266.2,334 273.4,326.8 280.6,319.6 283.7,316 284.2,306.4 285.9,306.4 287.1,317.2 289.7,329.2 293.8,342.4 259,343.6Z"/>
<path d="M249.4,334 253,339.3 259,342.4 249.4,343.6Z"/>
</g>
<g fill="#fff">
<path d="M199,55 376,55 376,91 366,92 356,94 344,103 340,111 328,117 320,127 316,135 306,145 298,161 304,163 300,173 294,183 293,193 289,207 284,217 276,231 266,239 258,251 199,251Z"/>
<path d="M360,189 370,187.6 378,190 380,200 377,210 373,220 369,230 363,236 360,244 362,256 365,270 364,284 380,290 394,287 404,280 414,274 421,270 422.4,276 430,277 436,279 428,282 422,287 420,293 412,294 402,296 394,300 388,303 350,303 350,298 344,292 336,286 333,270 335,256 340,246 348,234 355,228 357,216 354,206 355,196Z"/>
<path d="M438,170 452,170 458,176 464,182 466,188 460,192 452,189 444,186 442,178 437,174Z"/>
<path d="M199,160 296,160 294,168 298,180 293,190 291,202 284,214 288,220 276,230 266,240 262,248 250,256 243,264 239,278 241,296 240,314 243,326 252,334 258,336 199,336Z"/>
<path d="M374,55 500,55 499,83 495,93 497,101 495,109 489,113 481,109 481,101 484,94 479,90 473,90 463,95 471,99 475,113 479,117 485,125 483,133 471,135 469,143 467,155 471,161 477,169 471,173 461,172 455,173 457,179 463,182 466,187 463,192 455,191 445,188 441,183 437,173 433,165 423,159 412,150 416,150 425,152 435,154 445,154 457,151 464,145 466,133 463,123 457,118 449,115 435,111 417,107 407,111 403,107 395,105 387,103 389,97 383,94 374,92Z"/>
<path d="M59,279 234.4,279 234.4,360 236,421 230,432 224,446 218,456 59,456Z"/>
<path d="M59,419 236,419 236,423 230,432 226,442 220,450 216,456 208,460 200,463 196,472 192,477 184,481 180,484 176,488 169,486 167,480 161,479.6 161,488 162,497 154,496 148,492 140,492 130,494 126,497 129,504 136,508 142,514 148,518 152,522 150,530 154,538 158,544 159,554 160,564 156,572 154,582 150,590 148,592.4 140,590 130,586 120,583 110,580 100,578 86,574 80,570 72,574 64,578 62,586 65,596 59,596Z"/>
<path d="M234,334 250,334 253,338 259,340 265,338 268,334 292,334 293,343 297,353 302,363 304,371 305,379 307,386 315,385 318,383 317,377 320,374 329,372 333,368 335,359 336,347 337,334 378,334 376,341 374,351 375,361 377,371 379,380 375,387 373,392 365,399 360,399 356,393 351,392 343,395 335,401 329,407 323,411 321,415 316,411 313,405 310,401 307,404 302,405 295,409 293,412 288,412 290,405 286,403 281,398 278,392 280,385 282,378 285,371 282,363 283.4,353 284,344.6 278,349 270,354 265,359 264,371 263,383 265,393 266,405 267,415 263,417 255,418 245,420 235,422 234,422Z"/>
<path d="M335.2,279.2 363.2,279.2 366.4,284.8 374.4,287.2 384,289.6 392,284.8 400,280.8 403.2,279.2 425.6,279.2 422.4,287.2 417.6,292 411.2,292.8 403.2,295.2 395.2,299.2 390.4,304 387.2,308.8 381.6,311.2 376.8,314.4 379.2,318.4 377.6,324.8 379.2,329.6 384,328 387.2,323.2 390.4,318.4 392.8,322.4 396.8,320 397.6,328 399.2,336 398.4,342.4 394.4,344.8 390.4,342.4 387.2,337.6 384,334.4 379.2,337.6 375.2,344 373.6,352 374.4,360 376,369.6 377.6,379.2 376.8,384 372.8,390.4 368,395.2 364.8,399.2 360,399.2 356.8,395.2 352,393.6 344,396.8 336,401.6 328,406.4 320,411.2 319.2,411.2 319.2,374.4 324.8,372.8 331.2,372 333.6,360 335.2,348.8 334.4,337.6 336,326.4 340.8,320 347.2,310.4 350.4,300.8 347.2,292.8 337.6,286.4Z"/>
<path d="M409,275 418,273.6 422,278 435,277.6 435.6,280 428,282 422,285 420,293.6 410,294.4 409,290Z"/>
<path d="M680,426 684,414 692,404 700,394 708,389 712,392 715,402 718,410 745,412 745,426Z"/>
<path d="M234,611 235,611 241,608 247,602 255,596 261,590 267,587 273,589 279,592 283,598 285,606 288,612 293,618 299,624 305,632 311,638 317,642 323,644 329,650 335,654 339,660 345,664 349,670 352,678 355,686 234,686Z"/>
<path d="M305,570 307,566 314,562.4 321,562 323,565 320,568 323,574 329,580 335,588 341,592 347,598 355,602 365,608 375,614 383,619 389,624 391,634 389,646 393,658 401,666 407,672 411,676 411,686 363,686 365,680 367,674 363,668 359,662 363,654 369,653 375,658 379,663 382,658 379,652 373,648 363,644 353,638 346,634 351,632 352,628 347,627 337,628 329,622 324,616 321,606 315,598 308,590 306,580Z"/>
<path d="M234,639 312,639 315,642 323,645 327,650 335,655 343,660 349,666 352,678 355,684 353,690 350,696 351,700 355,699 360,692 363,686 367,680 366,672 363,668 359,662 363,654 369,653 375,658 379,663 382,658 379,652 373,648 363,644 359,639 389,639 390,648 393,658 401,666 407,672 409,680 407,688 411,690 411,816 355,816 353,808 349,800 339,796 331,793 323,792 315,794 307,792 299,788 295,784 291,780 287,778 282,772 281,768 287,762 293,754 294,744 290,740 286,736 287,730 293,722 293,718 288,722 284,724 283,718 278,714 271,716 263,720 253,722 245,719 235,717 234,717Z"/>
<path d="M5,558.8 157,558.8 155.8,569.6 154.6,579.2 149.8,591.2 145,592.4 133,590 121,586.4 109,582.8 97,579.2 87.4,574.4 77.8,570.1 68.2,573.2 62.2,576.8 63.4,588.8 64.6,600.8 61,612.8 56.2,624.8 51.4,636.8 46.6,646.4 45.4,656 49,663.2 47.8,672.8 45.4,684.8 49,684.8 57.4,688.4 64.6,687.2 70.6,690.8 75.4,699.2 79,708.8 83.8,713.6 76.6,717.2 73,725.6 68.2,735.2 63.4,744.8 49,749.6 37,754.4 5,759.2 5,759.2Z"/>
<path d="M83.8,713.6 89.8,711.2 97,706.4 106.6,705.2 116.2,706.4 125.8,708.8 130.6,704 140.2,699.2 147.4,694.4 154.6,684.8 160.6,678.8 155.8,672.8 157,663.2 161.8,656 169,646.4 173.8,640.4 183.4,636.8 193,632 202.6,622.4 201.4,615.2 202.6,605.6 209.8,600.8 217,599.6 226.6,602 236.2,604.4 236.2,717.2 226.6,720.8 217,723.2 207.4,718.4 197.8,719.6 190.6,718.4 178.6,723.2 166.6,724.4 154.6,728 145,731.6 137.8,732.8 128.2,738.8 121,737.6 113.8,732.8 104.2,731.6 94.6,730.4 89.8,725.6 86.2,717.2 76.6,717.2Z"/>
<path d="M498,513 504,508 510,505 512,510 518,511 524,512 530,511 528,517 524,523 528,525 534,527 537,537 543,535 548,529 550,521 558,517 566,511 570,513 578,515 586,519 586,578 580,579 574,574 568,577 564,573 554,579 546,583 540,589 534,595 530,601 484,601 481,597 482,589 485,581 487,573 487,565 486,555 489,549 493,543 494,533 495,525Z"/>
<path d="M546,503 550,495 554,489 562,481 570,471 576,465 581,464 580,469 576,477 577,487 574,499 570,507 562,509 554,513 548,509Z"/>
<path d="M559,515 560,515 568,511 572,513 580,515 590,517 600,521 610,525 618,527 626,531 632,537 636,543 637,549 634,557 630,563 624,567 616,569 610,572 600,575 590,578 584,579 576,576 570,577 564,573 560,574 559,574Z"/>
<path d="M559,483 564,479 570,473 576,468 580,464 581,467 578,472 575,479 574,485 576,491 573,501 568,507 564,510 560,509 559,509Z"/>
<path d="M680,424 707,424 706,433 712,437 715,438 708,441 703,443 704,447 712,449 718,453 722,459 745,461 745,510 716,506 706,501 698,495 690,489 684,481 680,473 672,467 670,459 672,451 669,445 672,437 678,431Z"/>
<path d="M487,599 489,604 497,609 509,609 521,606 527,602 528,599Z"/>
<path d="M481,630 487,624 493,619 501,617 507,618 503,623 497,626 489,629 484,632Z"/>
<path d="M415,685 425,682 435,682 443,684 435,685 425,685Z"/>
<path d="M384,647 389,646 391,656 395,662 401,668 405,670 410,674 411,680 408,686 411,690 417,694 419,700 424,706 427,711 431,708 435,713 440,712 443,716 445,712 442,706 440,700 444,695 449,692 454,688 455.4,683 454,678 449,673 441,668 435,664 436,660 431.4,652 429.4,645 431,640 436,643 439,647 445,648 447,643 442,639 443,635 449,631 455,630 461,629 469,630 473,633 479,630 481,632 475,638 473,644 475,650 481,649 483,654 479,658 473,656 471,659 479,662 485,660 489,666 483,670 476,671 475,674 485,674 491,677 489,682 483,680 485,686 493,688 497,686 503,689 509,688 507,694 501,696 497,700 505,698 513,694 517,692 523,698 529,698 535,694 537,684 545,680 553,682 561,688 561,776 384,776Z"/>
<path d="M549,681 556,685 564,687 572,682 578,674 586,668 596,664 599,659 601,666 600,674 603,680 606,690 609,698 608,708 607,720 606,730 605,740 605,752 602,762 596,766 588,770 580,772 572,770 562,772 554,775 549,776Z"/>
<path d="M281.2,768.6 284,777 291,781.2 299.4,788.2 310.6,792.4 321.8,791 335.8,796.6 349.8,799.4 354,809.2 361,817.6 375,819 386.2,823.2 397.4,828.8 404.4,831.6 411.4,826 414.2,814.8 412.8,800.8 417,791 425.4,784 436.6,778.4 447.8,778.4 453.4,781.2 456.2,786.8 467.4,788.2 481.4,786.8 481.4,768.6Z"/>
<path d="M478.6,768.6 569.6,768.6 564,771.4 552.8,775.6 544.4,785.4 536,792.4 519.2,791 508,789.6 491.2,791 480,789.6 478.6,786.8Z"/>
<path d="M618.6,816.2 625.6,813.4 632.6,820.4 642.4,830.2 650.8,840 662,847 663.4,870 620,870 617.2,840 611.6,828.8 615.8,823.2Z"/>
<path d="M578.6,781.2 583.6,792.4 592,806.4 603.2,820.4 614.4,826 611.6,820.4 600.4,809.2 589.2,795.2 582.8,785.4Z"/>
<path d="M5,55 205,55 205,290 63,290 63,570 5,570Z"/>
<path d="M257.8,340.7 266.2,334 273.4,326.8 280.6,319.6 283.7,316 284.2,306.4 285.9,306.4 287.1,317.2 289.7,329.2 293.8,342.4 259,343.6Z"/>
<path d="M249.4,334 253,339.3 259,342.4 249.4,343.6Z"/>
</g>
</g>
<g filter="url(#wob2)">
<g clip-path="url(#ic)">
<path fill="#0090ff" d="M66,140 70,136 75,133.4 82,130.6 85.6,132.6 87.4,141 86,148 84,152 89,151 92,146 95,145.4 97,150.6 101,148 104,154 108,151 112,154 117.4,149.4 122,151 123,155 128.4,156.6 126,163 127.4,168 129.4,173 127.4,181 124,186 119,189 113,191.4 101,193.4 89,196.2 83,194.4 77.4,190 74,184 72.6,177.4 64,174.4 63,171.4 71.4,168.6 70.6,163 63,155.4 63.4,152.2 73,155 78,152 76.6,145.4 70,143Z"/>
<path fill="url(#m9)" d="M66,140 70,136 75,133.4 82,130.6 85.6,132.6 87.4,141 86,148 84,152 89,151 92,146 95,145.4 97,150.6 101,148 104,154 108,151 112,154 117.4,149.4 122,151 123,155 128.4,156.6 126,163 127.4,168 129.4,173 127.4,181 124,186 119,189 113,191.4 101,193.4 89,196.2 83,194.4 77.4,190 74,184 72.6,177.4 64,174.4 63,171.4 71.4,168.6 70.6,163 63,155.4 63.4,152.2 73,155 78,152 76.6,145.4 70,143Z"/>
<path fill="#0a50f0" d="M65,129 89,129 89,149 83,153 75,145 65,143Z"/>
<path fill="url(#m10)" d="M65,129 89,129 89,149 83,153 75,145 65,143Z"/>
<path fill="#009bd7" d="M62,151 73,155 79,159 85,163 85,171 77,175 71,179 62,175Z"/>
<path fill="#009b3c" d="M74,161 80,158 85,161 86,167 82,169.4 76,167Z"/>
<path fill="#0a50f0" d="M113,163 119,155 131,153 131,187 85,199 73,187 79,177 89,171 101,169Z"/>
<path fill="url(#m10)" d="M113,163 119,155 131,153 131,187 85,199 73,187 79,177 89,171 101,169Z"/>
<path fill="#0000f5" d="M83,181 91,174 105,172 115,167 129,166 131,187 85,199 79,189Z"/>
<path fill="url(#m11)" d="M83,181 91,174 105,172 115,167 129,166 131,187 85,199 79,189Z"/>
<path fill="#3c14f0" d="M91,181 97,177 109,176 119,173 129.4,173 128,182 119,189 101,193.4 93,191Z"/>
<path fill="url(#m12)" d="M91,181 97,177 109,176 119,173 129.4,173 128,182 119,189 101,193.4 93,191Z"/>
<path fill="#0000f5" d="M151.4,246 163,244.2 159.4,249.8 155,248.6Z"/>
<path fill="url(#m11)" d="M151.4,246 163,244.2 159.4,249.8 155,248.6Z"/>
<path fill="#0000f5" d="M158,315 164,317 172,316 175,319 169,326 163,332 169,334 178,335 182,338 180,346 174,354 169,360 173,361 168,363 175,366 178,376 180,388 185,396 188,404 189,412 188,420 194,424 200,427 202.4,433 201,440 198,446 193,452 198,455 196,459 188,463 180,462 172,464 164,462 158,463 150,459 144,463 140,465 132,467 124,464 130,459 138,454 142,449 148,446 140,440 134,437 136,433 144,428 148,420 142,418 146,413 144,408 151,410 160,410 162,404 159,398 158,388 163,382 154,381 146,384 145,379 149,375 146,372 148,366 141,371 136,364 140,354 135,347 142,342 140,332 144,326 151,320 154,322Z"/>
<path fill="url(#m11)" d="M158,315 164,317 172,316 175,319 169,326 163,332 169,334 178,335 182,338 180,346 174,354 169,360 173,361 168,363 175,366 178,376 180,388 185,396 188,404 189,412 188,420 194,424 200,427 202.4,433 201,440 198,446 193,452 198,455 196,459 188,463 180,462 172,464 164,462 158,463 150,459 144,463 140,465 132,467 124,464 130,459 138,454 142,449 148,446 140,440 134,437 136,433 144,428 148,420 142,418 146,413 144,408 151,410 160,410 162,404 159,398 158,388 163,382 154,381 146,384 145,379 149,375 146,372 148,366 141,371 136,364 140,354 135,347 142,342 140,332 144,326 151,320 154,322Z"/>
<path fill="#0000f5" d="M120,367 129,367 135,371 139,372 141,380 141.6,386 136,392 131,396 132,404 131,414 126,422 118,425 110,427 100,430 92,429 94,423 86,420 85,415 92,412 97,408 104,410 95,403 99,399 95,392 98,386 97,380 103,378 112,379 115,373Z"/>
<path fill="url(#m11)" d="M120,367 129,367 135,371 139,372 141,380 141.6,386 136,392 131,396 132,404 131,414 126,422 118,425 110,427 100,430 92,429 94,423 86,420 85,415 92,412 97,408 104,410 95,403 99,399 95,392 98,386 97,380 103,378 112,379 115,373Z"/>
<path fill="#aa0a9e" d="M130,340 135,328 140,318 149,313 148,320 143,328 139,334 134,340Z"/>
<path fill="url(#m14)" d="M130,340 135,328 140,318 149,313 148,320 143,328 139,334 134,340Z"/>
<path fill="#961ed2" d="M172,314 176,306 181,305 178,312 174,316Z"/>
<path fill="url(#m13)" d="M172,314 176,306 181,305 178,312 174,316Z"/>
<path fill="#0000f5" d="M190,290 193,284 198,281 198,286 194,294 191.6,298Z"/>
<path fill="url(#m11)" d="M190,290 193,284 198,281 198,286 194,294 191.6,298Z"/>
<path fill="#0000f5" d="M146,393 150,390 149,395 146.4,396Z"/>
<path fill="url(#m11)" d="M146,393 150,390 149,395 146.4,396Z"/>
<path fill="#961ed2" d="M134,310 184,310 184,348 174,356 169,360 175,366 172,374 164,372 156,374 148,380 144,376 134,368Z"/>
<path fill="url(#m13)" d="M134,310 184,310 184,348 174,356 169,360 175,366 172,374 164,372 156,374 148,380 144,376 134,368Z"/>
<path fill="#0a50f0" d="M168,316 176,317 172,326 166,328Z"/>
<path fill="url(#m10)" d="M168,316 176,317 172,326 166,328Z"/>
<path fill="#be00be" d="M140,320 156,316 164,332 162,348 158,360 148,368 136,368 136,346Z"/>
<path fill="#e100e1" d="M151,332 156,326 160,336 159,348 156,358 151,356 152,344Z"/>
<path fill="#3c14f0" d="M154,364 175,366 178,376 172,374 164,372 156,374 148,380 148,370Z"/>
<path fill="url(#m12)" d="M154,364 175,366 178,376 172,374 164,372 156,374 148,380 148,370Z"/>
<path fill="#0a50f0" d="M178,380 188,400 202.4,433 200,444 188,440 180,428 174,416 175,404 176,392Z"/>
<path fill="url(#m10)" d="M178,380 188,400 202.4,433 200,444 188,440 180,428 174,416 175,404 176,392Z"/>
<path fill="#0090ff" d="M178,402 185,400 189,412 188,420 182,422 178,416 176,408Z"/>
<path fill="url(#m9)" d="M178,402 185,400 189,412 188,420 182,422 178,416 176,408Z"/>
<path fill="#961ed2" d="M148,374 156,374 164,372 171,376 173,388 175,400 173,412 166,412 161,406 158,388 163,382 154,381 146,384Z"/>
<path fill="url(#m13)" d="M148,374 156,374 164,372 171,376 173,388 175,400 173,412 166,412 161,406 158,388 163,382 154,381 146,384Z"/>
<path fill="#be00be" d="M159,388 164,386 166,392 172,396 174,404 172,412 166,410 162,404 159,398Z"/>
<path fill="#d200d2" d="M160,389 164,388 165,394 161,396Z"/>
<path fill="#aa0a9e" d="M144,408 160,410 158,420 154,432 156,444 148,446 142,440 134,437 136,433 144,428 148,420 142,418Z"/>
<path fill="url(#m14)" d="M144,408 160,410 158,420 154,432 156,444 148,446 142,440 134,437 136,433 144,428 148,420 142,418Z"/>
<path fill="#e100e1" d="M148,413 153,412 154,419 150,421Z"/>
<path fill="#3c14f0" d="M156,436 172,432 188,440 198,446 193,452 198,456 188,463 172,464 150,459 148,446Z"/>
<path fill="url(#m12)" d="M156,436 172,432 188,440 198,446 193,452 198,456 188,463 172,464 150,459 148,446Z"/>
<path fill="#aa0a9e" d="M158,444 172,440 180,446 188,452 188,463 172,464 164,456 156,452Z"/>
<path fill="url(#m14)" d="M158,444 172,440 180,446 188,452 188,463 172,464 164,456 156,452Z"/>
<path fill="#aa0a9e" d="M124,464 130,459 138,454 142,449 150,454 150,459 140,465 132,467Z"/>
<path fill="url(#m14)" d="M124,464 130,459 138,454 142,449 150,454 150,459 140,465 132,467Z"/>
<path fill="#aa0a9e" d="M94,376 112,379 118,374 120,380 118,388 112,394 106,398 99,400 94,392Z"/>
<path fill="url(#m14)" d="M94,376 112,379 118,374 120,380 118,388 112,394 106,398 99,400 94,392Z"/>
<path fill="#961ed2" d="M115,373 120,366 129,366 135,371 130,380 120,384Z"/>
<path fill="url(#m13)" d="M115,373 120,366 129,366 135,371 130,380 120,384Z"/>
<path fill="#0a50f0" d="M120,408 131,398 133,404 132,414 126,423 118,425 116,416Z"/>
<path fill="url(#m10)" d="M120,408 131,398 133,404 132,414 126,423 118,425 116,416Z"/>
<path fill="#961ed2" d="M84,415 92,411 97,410 96,420 94,424 85,421Z"/>
<path fill="url(#m13)" d="M84,415 92,411 97,410 96,420 94,424 85,421Z"/>
<path fill="#0a50f0" d="M279,384 286,382 288.6,388 286,394 280,393Z"/>
<path fill="url(#m10)" d="M279,384 286,382 288.6,388 286,394 280,393Z"/>
<path fill="#0090ff" d="M291,379 297,376 303,378 305,385 302,393 297,395 292,391Z"/>
<path fill="url(#m9)" d="M291,379 297,376 303,378 305,385 302,393 297,395 292,391Z"/>
<path fill="#009bd7" d="M289,396 297,395 301,398 295,401 289,399Z"/>
<path fill="#0090ff" d="M321.4,388.6 325,388 326.6,392 323,393.4Z"/>
<path fill="url(#m9)" d="M321.4,388.6 325,388 326.6,392 323,393.4Z"/>
<path fill="#0a50f0" d="M338,349 339.4,350 339,361 337.4,362Z"/>
<path fill="url(#m10)" d="M338,349 339.4,350 339,361 337.4,362Z"/>
<path fill="#0090ff" d="M348,340 353,335 357,331 355,339 351,347 348,346Z"/>
<path fill="url(#m9)" d="M348,340 353,335 357,331 355,339 351,347 348,346Z"/>
<path fill="#06063a" d="M352,289.6 358.4,286.4 368,284.8 377.6,288 382.4,291.2 376,296 366.4,296.8 356.8,296Z"/>
<path fill="#0a50f0" d="M265,622 270,618 273,612 274.4,622 274,634 272,642 268,640 265,634 264,628Z"/>
<path fill="url(#m10)" d="M265,622 270,618 273,612 274.4,622 274,634 272,642 268,640 265,634 264,628Z"/>
<path fill="#3c14f0" d="M267,626 271,625 272,632 268,633Z"/>
<path fill="url(#m12)" d="M267,626 271,625 272,632 268,633Z"/>
<path fill="#0090ff" d="M265,620 270,618 271,623 266,624Z"/>
<path fill="url(#m9)" d="M265,620 270,618 271,623 266,624Z"/>
<path fill="#0a50f0" d="M259,646 262,650 269,645 274,643 277,652 277.4,666 276,682 269,683 263,686 258.6,682 260.6,670 257.4,658Z"/>
<path fill="url(#m10)" d="M259,646 262,650 269,645 274,643 277,652 277.4,666 276,682 269,683 263,686 258.6,682 260.6,670 257.4,658Z"/>
<path fill="#009bd7" d="M265,652 273,644 278,652 277.4,683 263,686 261,670 265,662Z"/>
<path fill="#0ad214" d="M267,656 272,648 278,652 277.4,683 261,686 260.6,678 266,666Z"/>
<path fill="#c8ff50" d="M269,658 273,650 277.4,652 277.4,683 267,684 265,676 269,666Z"/>
<path fill="#ffff00" d="M271,652 277.4,650 277.4,680 270,682 271,668Z"/>
<path fill="#c8c8f0" d="M272,660 276,659 276.6,670 273,670Z"/>
<path fill="#0ad214" d="M308,702 315,698 323,700 333,699 341,697 349,695 347,702 344,708 346,717 344,723 338,723 331,717 323,713 315,708 310,705Z"/>
<path fill="#009b3c" d="M311,700 323,700 329,706 323,713 315,708Z"/>
<path fill="#009bd7" d="M337,698 349,695 347,702 341,702Z"/>
<path fill="#009b3c" d="M334,735 337,736 338,739 335,738.4Z"/>
<path fill="#ffff00" d="M172.6,677.6 176.2,675.2 178.6,677.6 175.7,682.4Z"/>
<path fill="#0a50f0" d="M188.2,666.8 193,663.2 200.2,662.7 202.1,669.2 197.8,675.2 193,674Z"/>
<path fill="url(#m10)" d="M188.2,666.8 193,663.2 200.2,662.7 202.1,669.2 197.8,675.2 193,674Z"/>
<path fill="#0090ff" d="M205.5,662 209.8,661.3 211.7,665.6 208.6,666.8Z"/>
<path fill="url(#m9)" d="M205.5,662 209.8,661.3 211.7,665.6 208.6,666.8Z"/>
<path fill="#0ad214" d="M190.6,669.2 197.8,668 201.4,670.4 197.8,675.2 193,674Z"/>
<path fill="#3c14f0" d="M452,726 459,725.6 467,727 477,726 487,724 488,730 479,733 469,735 461,733 453,732Z"/>
<path fill="url(#m12)" d="M452,726 459,725.6 467,727 477,726 487,724 488,730 479,733 469,735 461,733 453,732Z"/>
<path fill="#0090ff" d="M503,700 507.4,698 506,705 503.4,708Z"/>
<path fill="#aa0a9e" d="M494.6,718 497.4,712 498.4,720 495.4,722Z"/>
<path fill="url(#m14)" d="M494.6,718 497.4,712 498.4,720 495.4,722Z"/>
<path fill="#009b3c" d="M471,655 478,652.4 480,657 475,659.6Z"/>
<path fill="#0090ff" d="M474,669 478,668 479,673 475,674Z"/>
<path fill="#0ad214" d="M483,679 488,678 489,681 484,682Z"/>
<path fill="#0090ff" d="M461,691 464,690 464.6,693 461.6,694Z"/>
<path fill="url(#m9)" d="M461,691 464,690 464.6,693 461.6,694Z"/>
<path fill="#0090ff" d="M468,697 471,696 471.4,699 468.6,699.6Z"/>
<path fill="url(#m9)" d="M468,697 471,696 471.4,699 468.6,699.6Z"/>
<path fill="#0ad214" d="M473,703 476,702 476.6,705 473.6,705.6Z"/>
<path fill="#009b3c" d="M462,704 464.6,703 465,706 462.4,706.4Z"/>
<path fill="#ffff00" d="M483,702 486,701 486.4,704 483.4,704.6Z"/>
<path fill="#0090ff" d="M462,635 467,634 468,638 463,639Z"/>
<path fill="url(#m9)" d="M462,635 467,634 468,638 463,639Z"/>
<path fill="#aa0a9e" d="M391,658 394,660 397,664 395,665 392,662Z"/>
<path fill="url(#m14)" d="M391,658 394,660 397,664 395,665 392,662Z"/>
<path fill="#0ad214" d="M407,684 411,683 412,688 408,689Z"/>
<path fill="#0090ff" d="M411,692 415,691 415,696 412,696Z"/>
<path fill="url(#m9)" d="M411,692 415,691 415,696 412,696Z"/>
<path fill="#aa0a9e" d="M452,726 459,725.6 467,727 473,728 469,735 461,733 453,732Z"/>
<path fill="url(#m14)" d="M452,726 459,725.6 467,727 473,728 469,735 461,733 453,732Z"/>
<path fill="#0a50f0" d="M477,726 487,724 488,730 479,733Z"/>
<path fill="#f5f5f5" d="M562,707 565,702 569,698 576,696 581,691 587,685.6 585,692 583,698 578,704 573,709 567,711.6 563,710Z"/>
<path fill="#0090ff" d="M451,630 455,629 455.4,632 452,633Z"/>
<path fill="url(#m9)" d="M451,630 455,629 455.4,632 452,633Z"/>
<path fill="#009b3c" d="M445,660 448,659 449,662 446,663Z"/>
<path fill="#009b3c" d="M451,664 454,663.6 454.6,666 451.6,666.6Z"/>
<path fill="#009b3c" d="M456,688 459,687 460,690 457,691Z"/>
<path fill="#0090ff" d="M465,688 467.4,687.2 468.2,690 465.6,690.6Z"/>
<path fill="url(#m9)" d="M465,688 467.4,687.2 468.2,690 465.6,690.6Z"/>
<path fill="#0090ff" d="M471,692 474,691 474.6,694 471.6,694.6Z"/>
<path fill="#0ad214" d="M477,696 480,695.2 480.6,698 477.6,698.6Z"/>
<path fill="#009b3c" d="M489,694 493,692 494,695.6 490,697Z"/>
<path fill="#0ad214" d="M493,704 496,703 496.4,706 493.6,706.6Z"/>
<path fill="#ffff00" d="M479,708 482,707.2 482.4,710 479.6,710.6Z"/>
<path fill="#0090ff" d="M467,706 470,705.2 470.4,708 467.6,708.6Z"/>
<path fill="url(#m9)" d="M467,706 470,705.2 470.4,708 467.6,708.6Z"/>
<path fill="#0ad214" d="M457,700 459.4,699.4 459.8,702 457.4,702.4Z"/>
<path fill="#0090ff" d="M445,718 447.4,717.2 447.8,720 445.4,720.4Z"/>
<path fill="url(#m9)" d="M445,718 447.4,717.2 447.8,720 445.4,720.4Z"/>
<path fill="#0ad214" d="M436,650 440,651 443,655 440,656 436.6,653Z"/>
<path fill="none" stroke="#3a0a8c" stroke-width="9" stroke-opacity="0.55" stroke-linejoin="round" d="M154,322 151,320 144,326 140,332 142,342 135,347 140,354 136,364 141,371"/>
<path fill="none" stroke="#0a0030" stroke-width="6" stroke-opacity="0.6" stroke-linejoin="round" stroke-dasharray="2.5 1.5" d="M154,322 151,320 144,326 140,332 142,342 135,347 140,354 136,364 141,371"/>
<path fill="none" stroke="#0a0030" stroke-width="4" stroke-opacity="0.5" stroke-linejoin="round" stroke-dasharray="2 1.5" d="M130,340 135,328 140,318 149,313"/>
</g>
<g fill="none" stroke="#000" stroke-width="0.8" stroke-linejoin="round"><path d="M66,140 70,136 75,133.4 82,130.6 85.6,132.6 87.4,141 86,148 84,152 89,151 92,146 95,145.4 97,150.6 101,148 104,154 108,151 112,154 117.4,149.4 122,151 123,155 128.4,156.6 126,163 127.4,168 129.4,173 127.4,181 124,186 119,189 113,191.4 101,193.4 89,196.2 83,194.4 77.4,190 74,184 72.6,177.4 64,174.4 63,171.4 71.4,168.6 70.6,163 63,155.4 63.4,152.2 73,155 78,152 76.6,145.4 70,143Z"/>
<path d="M151.4,246 163,244.2 159.4,249.8 155,248.6Z"/>
<path d="M158,315 164,317 172,316 175,319 169,326 163,332 169,334 178,335 182,338 180,346 174,354 169,360 173,361 168,363 175,366 178,376 180,388 185,396 188,404 189,412 188,420 194,424 200,427 202.4,433 201,440 198,446 193,452 198,455 196,459 188,463 180,462 172,464 164,462 158,463 150,459 144,463 140,465 132,467 124,464 130,459 138,454 142,449 148,446 140,440 134,437 136,433 144,428 148,420 142,418 146,413 144,408 151,410 160,410 162,404 159,398 158,388 163,382 154,381 146,384 145,379 149,375 146,372 148,366 141,371 136,364 140,354 135,347 142,342 140,332 144,326 151,320 154,322Z"/>
<path d="M120,367 129,367 135,371 139,372 141,380 141.6,386 136,392 131,396 132,404 131,414 126,422 118,425 110,427 100,430 92,429 94,423 86,420 85,415 92,412 97,408 104,410 95,403 99,399 95,392 98,386 97,380 103,378 112,379 115,373Z"/>
<path d="M130,340 135,328 140,318 149,313 148,320 143,328 139,334 134,340Z"/>
<path d="M172,314 176,306 181,305 178,312 174,316Z"/>
<path d="M190,290 193,284 198,281 198,286 194,294 191.6,298Z"/>
<path d="M146,393 150,390 149,395 146.4,396Z"/>
<path d="M279,384 286,382 288.6,388 286,394 280,393Z"/>
<path d="M291,379 297,376 303,378 305,385 302,393 297,395 292,391Z"/>
<path d="M289,396 297,395 301,398 295,401 289,399Z"/>
<path d="M321.4,388.6 325,388 326.6,392 323,393.4Z"/>
<path d="M338,349 339.4,350 339,361 337.4,362Z"/>
<path d="M348,340 353,335 357,331 355,339 351,347 348,346Z"/>
<path d="M352,289.6 358.4,286.4 368,284.8 377.6,288 382.4,291.2 376,296 366.4,296.8 356.8,296Z"/>
<path d="M265,622 270,618 273,612 274.4,622 274,634 272,642 268,640 265,634 264,628Z"/>
<path d="M259,646 262,650 269,645 274,643 277,652 277.4,666 276,682 269,683 263,686 258.6,682 260.6,670 257.4,658Z"/>
<path d="M308,702 315,698 323,700 333,699 341,697 349,695 347,702 344,708 346,717 344,723 338,723 331,717 323,713 315,708 310,705Z"/>
<path d="M334,735 337,736 338,739 335,738.4Z"/>
<path d="M172.6,677.6 176.2,675.2 178.6,677.6 175.7,682.4Z"/>
<path d="M188.2,666.8 193,663.2 200.2,662.7 202.1,669.2 197.8,675.2 193,674Z"/>
<path d="M205.5,662 209.8,661.3 211.7,665.6 208.6,666.8Z"/>
<path d="M452,726 459,725.6 467,727 477,726 487,724 488,730 479,733 469,735 461,733 453,732Z"/>
<path d="M503,700 507.4,698 506,705 503.4,708Z"/>
<path d="M494.6,718 497.4,712 498.4,720 495.4,722Z"/>
<path d="M471,655 478,652.4 480,657 475,659.6Z"/>
<path d="M474,669 478,668 479,673 475,674Z"/>
<path d="M483,679 488,678 489,681 484,682Z"/>
<path d="M461,691 464,690 464.6,693 461.6,694Z"/>
<path d="M468,697 471,696 471.4,699 468.6,699.6Z"/>
<path d="M473,703 476,702 476.6,705 473.6,705.6Z"/>
<path d="M462,704 464.6,703 465,706 462.4,706.4Z"/>
<path d="M483,702 486,701 486.4,704 483.4,704.6Z"/>
<path d="M462,635 467,634 468,638 463,639Z"/>
<path d="M391,658 394,660 397,664 395,665 392,662Z"/>
<path d="M407,684 411,683 412,688 408,689Z"/>
<path d="M411,692 415,691 415,696 412,696Z"/>
<path d="M562,707 565,702 569,698 576,696 581,691 587,685.6 585,692 583,698 578,704 573,709 567,711.6 563,710Z"/>
<path d="M451,630 455,629 455.4,632 452,633Z"/>
<path d="M445,660 448,659 449,662 446,663Z"/>
<path d="M451,664 454,663.6 454.6,666 451.6,666.6Z"/>
<path d="M456,688 459,687 460,690 457,691Z"/>
<path d="M465,688 467.4,687.2 468.2,690 465.6,690.6Z"/>
<path d="M471,692 474,691 474.6,694 471.6,694.6Z"/>
<path d="M477,696 480,695.2 480.6,698 477.6,698.6Z"/>
<path d="M489,694 493,692 494,695.6 490,697Z"/>
<path d="M493,704 496,703 496.4,706 493.6,706.6Z"/>
<path d="M479,708 482,707.2 482.4,710 479.6,710.6Z"/>
<path d="M467,706 470,705.2 470.4,708 467.6,708.6Z"/>
<path d="M457,700 459.4,699.4 459.8,702 457.4,702.4Z"/>
<path d="M445,718 447.4,717.2 447.8,720 445.4,720.4Z"/>
<path d="M436,650 440,651 443,655 440,656 436.6,653Z"/></g>
</g>
<path fill="none" stroke="#000" stroke-width="0.7" d="M723.6,184 722,193 718,203 713,215 708,223 703,224 704,229 710,233 716,235 720,233 715,239 714,247 718,250"/>
<path fill="none" stroke="#000" stroke-width="0.7" d="M383,111 385,125 389,135 395,143 399,159 407,179 412,195 418,203 417,213 429,221 431,235 427,250"/>
<path fill="none" stroke="#000" stroke-width="0.7" d="M321,415 320,423 319,431 323,439 325,451 328,463"/>
<path fill="none" stroke="#000" stroke-width="0.7" d="M328,463 335,469 343,471 349,475 355,473 363,483 371,487 379,491 387,489 395,487 405,489 410,487"/>
<path fill="none" stroke="#000" stroke-width="0.7" d="M328,463 319,467 309,473 302,479 305,487 315,497 323,505 329,503"/>
<path fill="none" stroke="#000" stroke-width="0.7" d="M373,392 383,393 395,394 403,393 405,401 409,415 407,425 410,435"/>
<path fill="none" stroke="#000" stroke-width="0.7" d="M379,380 387,383 393,384 395,393"/>
<path fill="none" stroke="#000" stroke-width="0.7" d="M376,365 383,359 395,357 405,354 410,357"/>
<path fill="none" stroke="#000" stroke-width="0.7" d="M267,396 278,393"/>
<path fill="none" stroke="#000" stroke-width="0.7" d="M425,250 421,262 418,273.6"/>
<path fill="none" stroke="#000" stroke-width="0.7" d="M420,293.6 421,308 426,322 423,328 429,336 436,350"/>
<path fill="none" stroke="#000" stroke-width="0.7" d="M410,326 418,330 423,328"/>
<path fill="none" stroke="#000" stroke-width="0.7" d="M410,356 422,360 425,368 421,378 419,388 422,390 410,399"/>
<path fill="none" stroke="#000" stroke-width="0.7" d="M436,350 444,351 452,350 460,353 466,368 476,376 486,382 487,388 478,392 482,408 486,410 476,414 476,425"/>
<path fill="none" stroke="#000" stroke-width="0.7" d="M486,410 496,402 502,399 508,406 512,414 518,416 526,422 534,424 546,420 554,422 566,421 574,422 576,425"/>
<path fill="none" stroke="#000" stroke-width="0.7" d="M724,287 714,287 708,292 704,298 700,304 698,314 688,315 688,321 684,317 674,316 664,320 656,324 650,328 648,338 644,348 642,358 647,366 644,370 634,367 633,380 637,390 640,404 648,406 653,412 660,408 668,412 675,418 672,422 680,425"/>
<path fill="none" stroke="#000" stroke-width="0.7" d="M720,250 718,260 724,264"/>
<path fill="none" stroke="#000" stroke-width="0.7" d="M261,722 259,734 258,748 257,760 251,766 247,774 249,786 255,794 263,804 267,815"/>
<path fill="none" stroke="#000" stroke-width="0.7" d="M291,780 299,788 300,800 293,806 287,812 283,815"/>
<path fill="none" stroke="#000" stroke-width="0.7" d="M64.6,600.8 73,598.4 82.6,603.2 89.8,608 91,615.2 85,620 82.6,632 77.8,644 73,648.8 74.2,660.8 68.2,672.8 65.8,680 70.6,690.8"/>
<path fill="none" stroke="#000" stroke-width="0.7" d="M410,440 416,435 426,431 436,430 450,433 462,429 476,427 478,425"/>
<path fill="none" stroke="#000" stroke-width="0.7" d="M410,440 414,449 418,457 412,465 410,471"/>
<path fill="none" stroke="#000" stroke-width="0.7" d="M410,507 418,505 426,504 434,507 442,501 450,495 460,488 468,490 478,493 482,501 486,509 490,517 496,519"/>
<path fill="none" stroke="#000" stroke-width="0.7" d="M453,494 460,503 468,511 474,523 477,533 480,537 481,529 482,519 490,517"/>
<path fill="none" stroke="#000" stroke-width="0.7" d="M420,577 426,581 438,580 450,579 458,573 466,568 476,566 487,568"/>
<path fill="none" stroke="#000" stroke-width="0.7" d="M410,569 416,568 420,577 418,583 424,591 426,600"/>
<path fill="none" stroke="#000" stroke-width="0.7" d="M577,425 575,433 579,441 576,451 572,455 570,463 573,469"/>
<path fill="none" stroke="#000" stroke-width="0.7" d="M610,523 618,521 628,519 638,515 648,515 656,517 662,511 670,509 676,512 684,513 692,511 700,517 704,513 707,501"/>
<path fill="none" stroke="#000" stroke-width="0.7" d="M637,547 644,545 652,543 660,545 668,539 674,535 680,529 688,525 692,523"/>
<path fill="none" stroke="#000" stroke-width="0.7" d="M660,545 664,553 670,559 678,557 680,563 688,565 696,567 700,561 704,553 712,545 718,540 722,543 724,553"/>
<path fill="none" stroke="#000" stroke-width="0.7" d="M678,561 680,569 678,573 684,583 688,593 694,600"/>
<path fill="none" stroke="#000" stroke-width="0.7" d="M401,636 411,638 421,632 431,626 443,620 455,619 465,620 469,612 467,606 473,604 481,602 487,600"/>
<path fill="none" stroke="#000" stroke-width="0.7" d="M469,612 473,618 471,626 473,633"/>
<path fill="none" stroke="#000" stroke-width="0.7" d="M391,600 395,608 393,618 401,626 401,636 403,646 399,650 395,660"/>
<path fill="none" stroke="#000" stroke-width="0.7" d="M401,626 405,618 413,614 423,610 425,600"/>
<path fill="none" stroke="#000" stroke-width="0.7" d="M423,610 429,618 431,626"/>
<path fill="none" stroke="#000" stroke-width="0.7" d="M601,658 608,655 618,654 626,648 636,645 646,637 654,628 662,622 669,617 672,612 678,609 686,608 694,606 698,600"/>
<path fill="none" stroke="#000" stroke-width="0.7" d="M669,617 664,636 668,646 671,666 670,673 649,704 630,732"/>
<path fill="none" stroke="#000" stroke-width="0.7" d="M649,704 660,719 636,744 653,757 648,768 638,775"/>
<path fill="none" stroke="#000" stroke-width="0.7" d="M660,719 690,721 714,723 717,727 724,724"/>
<path fill="none" stroke="#000" stroke-width="0.7" d="M698,600 702,608 710,614 716,618 722,616 723,626 722,636 724,644"/>
<path fill="none" stroke="#000" stroke-width="0.7" d="M610,696 614,694 618,700 617,708 612,716 610,724 612,730 616,740 617,756 618,775"/>
<path fill="none" stroke="#000" stroke-width="0.7" d="M610,736 615,738 616,748 610,752 609,744"/>
<path fill="none" stroke="#000" stroke-width="0.7" d="M602,762 608,775"/>
<path fill="none" stroke="#000" stroke-width="0.7" d="M601,658 603,666 608,664 610,660 607,656"/>
<path fill="none" stroke="#000" stroke-width="0.7" d="M25,829.6 39.4,824.8 53.8,822.4 55,820 68.2,821.2 85,811.6 94.6,806.8 94.6,797.2 106.6,791.2 130.6,793.6 133,787.6 127,778 128.2,754 127,739.6 124.6,737.2"/>
<path fill="none" stroke="#000" stroke-width="0.7" d="M246.2,770 250.4,786.8 263,798 268.6,817.6 271.4,837.2 270,851.2"/>
<path fill="none" stroke="#000" stroke-width="0.7" d="M300.8,788.2 299.4,800.8 291,809.2 282.6,817.6 281.2,834.4 270,841.4"/>
<path fill="none" stroke="#000" stroke-width="0.7" d="M480,798 482.8,820.4 485.6,837.2 487,851.2"/>
<path fill="none" stroke="#000" stroke-width="0.7" d="M601.8,770 611.6,786.8 618.6,816.2"/>
<path fill="none" stroke="#000" stroke-width="0.7" d="M617.2,770 618.6,792.4 634,789.6 639.6,775.6 648,770"/>
<path fill="none" stroke="#000" stroke-width="0.7" d="M618.6,792.4 618.6,816.2"/>
<path fill="none" stroke="#000" stroke-width="0.7" d="M575.2,775.6 579.4,786.8 585,800.8 594.8,814.8 606,826 611.6,830.2"/>
<path fill="none" stroke="#000" stroke-width="0.7" d="M264,419 258,422 252,426 251,434 249,442 247,450 242,451 241,458 239,466 241,472 240,480 238,486 241,490"/>
<path fill="none" stroke="#000" stroke-width="0.7" d="M217,455 224,457 230,456 236,460 239,466"/>
<path fill="none" stroke="#000" stroke-width="0.7" d="M206,462 212,466 218,474 224,480 230,484 236,490 241,490"/>
<path fill="none" stroke="#000" stroke-width="0.7" d="M241,490 246,498 254,500 261,504 258,512 255,522 254,529"/>
<path fill="none" stroke="#000" stroke-width="0.7" d="M254,529 264,526 274,528 282,530 290,528 298,530 310,525 313,520 308,515 319,509"/>
<path fill="none" stroke="#000" stroke-width="0.7" d="M319,509 310,498 304,488 302,480 310,476 322,466 328,464"/>
<path fill="none" stroke="#000" stroke-width="0.7" d="M319,509 330,502 340,504 345,502"/>
<path fill="none" stroke="#000" stroke-width="0.7" d="M254,529 248,532 240,544 236,552 239,554 246,552 247,560 244,570 246,575"/>
<path fill="none" stroke="#000" stroke-width="0.7" d="M247,560 256,558 262,550 268,558 274,554 280,548 286,552 284,544 290,540 298,538 298,530"/>
<path fill="none" stroke="#000" stroke-width="0.7" d="M290,540 302,540 310,544 318,548 326,546 336,544 345,540"/>
<path fill="none" stroke="#000" stroke-width="0.7" d="M318,548 317,556 322,560"/>
<path fill="none" stroke="#000" stroke-width="0.7" d="M330,502 342,504 352,514 364,520 376,514 388,506 396,500 404,502 410,508"/>
<path fill="none" stroke="#000" stroke-width="0.7" d="M342,470 352,480 362,482 372,490 384,492 396,488 408,489 410,482"/>
<path fill="none" stroke="#000" stroke-width="0.7" d="M410,508 406,518 402,530 398,540 392,546 400,556 408,566"/>
<path fill="none" stroke="#000" stroke-width="0.7" d="M346,540 360,550 376,552 392,546"/>
<path fill="none" stroke="#000" stroke-width="0.7" d="M352,514 348,526 350,534 346,540 330,544"/>
<path fill="none" stroke="#000" stroke-width="0.7" d="M344,570 352,568 364,568 380,567 382,578 386,586 382,594 396,602 402,598 408,602"/>
<path fill="none" stroke="#000" stroke-width="0.7" d="M344,570 348,582 356,592 366,600 376,608"/>
<path fill="none" stroke="#000" stroke-width="0.7" d="M396,602 396,610 390,622"/>
</g>
<rect x="750" y="849.03" width="28.5" height="1.27" fill="#f5f5f5"/>
<rect x="750" y="846.12" width="28.5" height="3.21" fill="#c8c8f0"/>
<rect x="750" y="840.31" width="28.5" height="6.11" fill="#d2c878"/>
<rect x="750" y="830.62" width="28.5" height="9.99" fill="#ffff00"/>
<rect x="750" y="820.94" width="28.5" height="9.99" fill="#c8ff50"/>
<rect x="750" y="811.25" width="28.5" height="9.99" fill="#5aff78"/>
<rect x="750" y="791.88" width="28.5" height="19.68" fill="#0ad214"/>
<rect x="750" y="772.50" width="28.5" height="19.68" fill="#009b3c"/>
<rect x="750" y="753.12" width="28.5" height="19.68" fill="#009bd7"/>
<rect x="750" y="704.69" width="28.5" height="48.74" fill="#0090ff"/>
<rect x="750" y="656.25" width="28.5" height="48.74" fill="#0a50f0"/>
<rect x="750" y="607.81" width="28.5" height="48.74" fill="#0000f5"/>
<rect x="750" y="559.38" width="28.5" height="48.74" fill="#3c14f0"/>
<rect x="750" y="510.94" width="28.5" height="48.74" fill="#961ed2"/>
<rect x="750" y="462.50" width="28.5" height="48.74" fill="#aa0a9e"/>
<rect x="750" y="414.06" width="28.5" height="48.74" fill="#a800a8"/>
<rect x="750" y="365.62" width="28.5" height="48.74" fill="#be00be"/>
<rect x="750" y="268.75" width="28.5" height="97.17" fill="#d200d2"/>
<rect x="750" y="171.88" width="28.5" height="97.17" fill="#e100e1"/>
<rect x="750" y="75.00" width="28.5" height="97.17" fill="#ff00ff"/>
<rect x="750.5" y="75.5" width="28" height="774" fill="none" stroke="#000" stroke-width="1"/>
<path d="M778.5,849.5H791.5" stroke="#000" stroke-width="1" fill="none"/>
<path d="M778.5,656.5H791.5" stroke="#000" stroke-width="1" fill="none"/>
<path d="M778.5,462.5H791.5" stroke="#000" stroke-width="1" fill="none"/>
<path d="M778.5,269.5H791.5" stroke="#000" stroke-width="1" fill="none"/>
<path d="M778.5,75.5H791.5" stroke="#000" stroke-width="1" fill="none"/>
</svg>
</body></html>
